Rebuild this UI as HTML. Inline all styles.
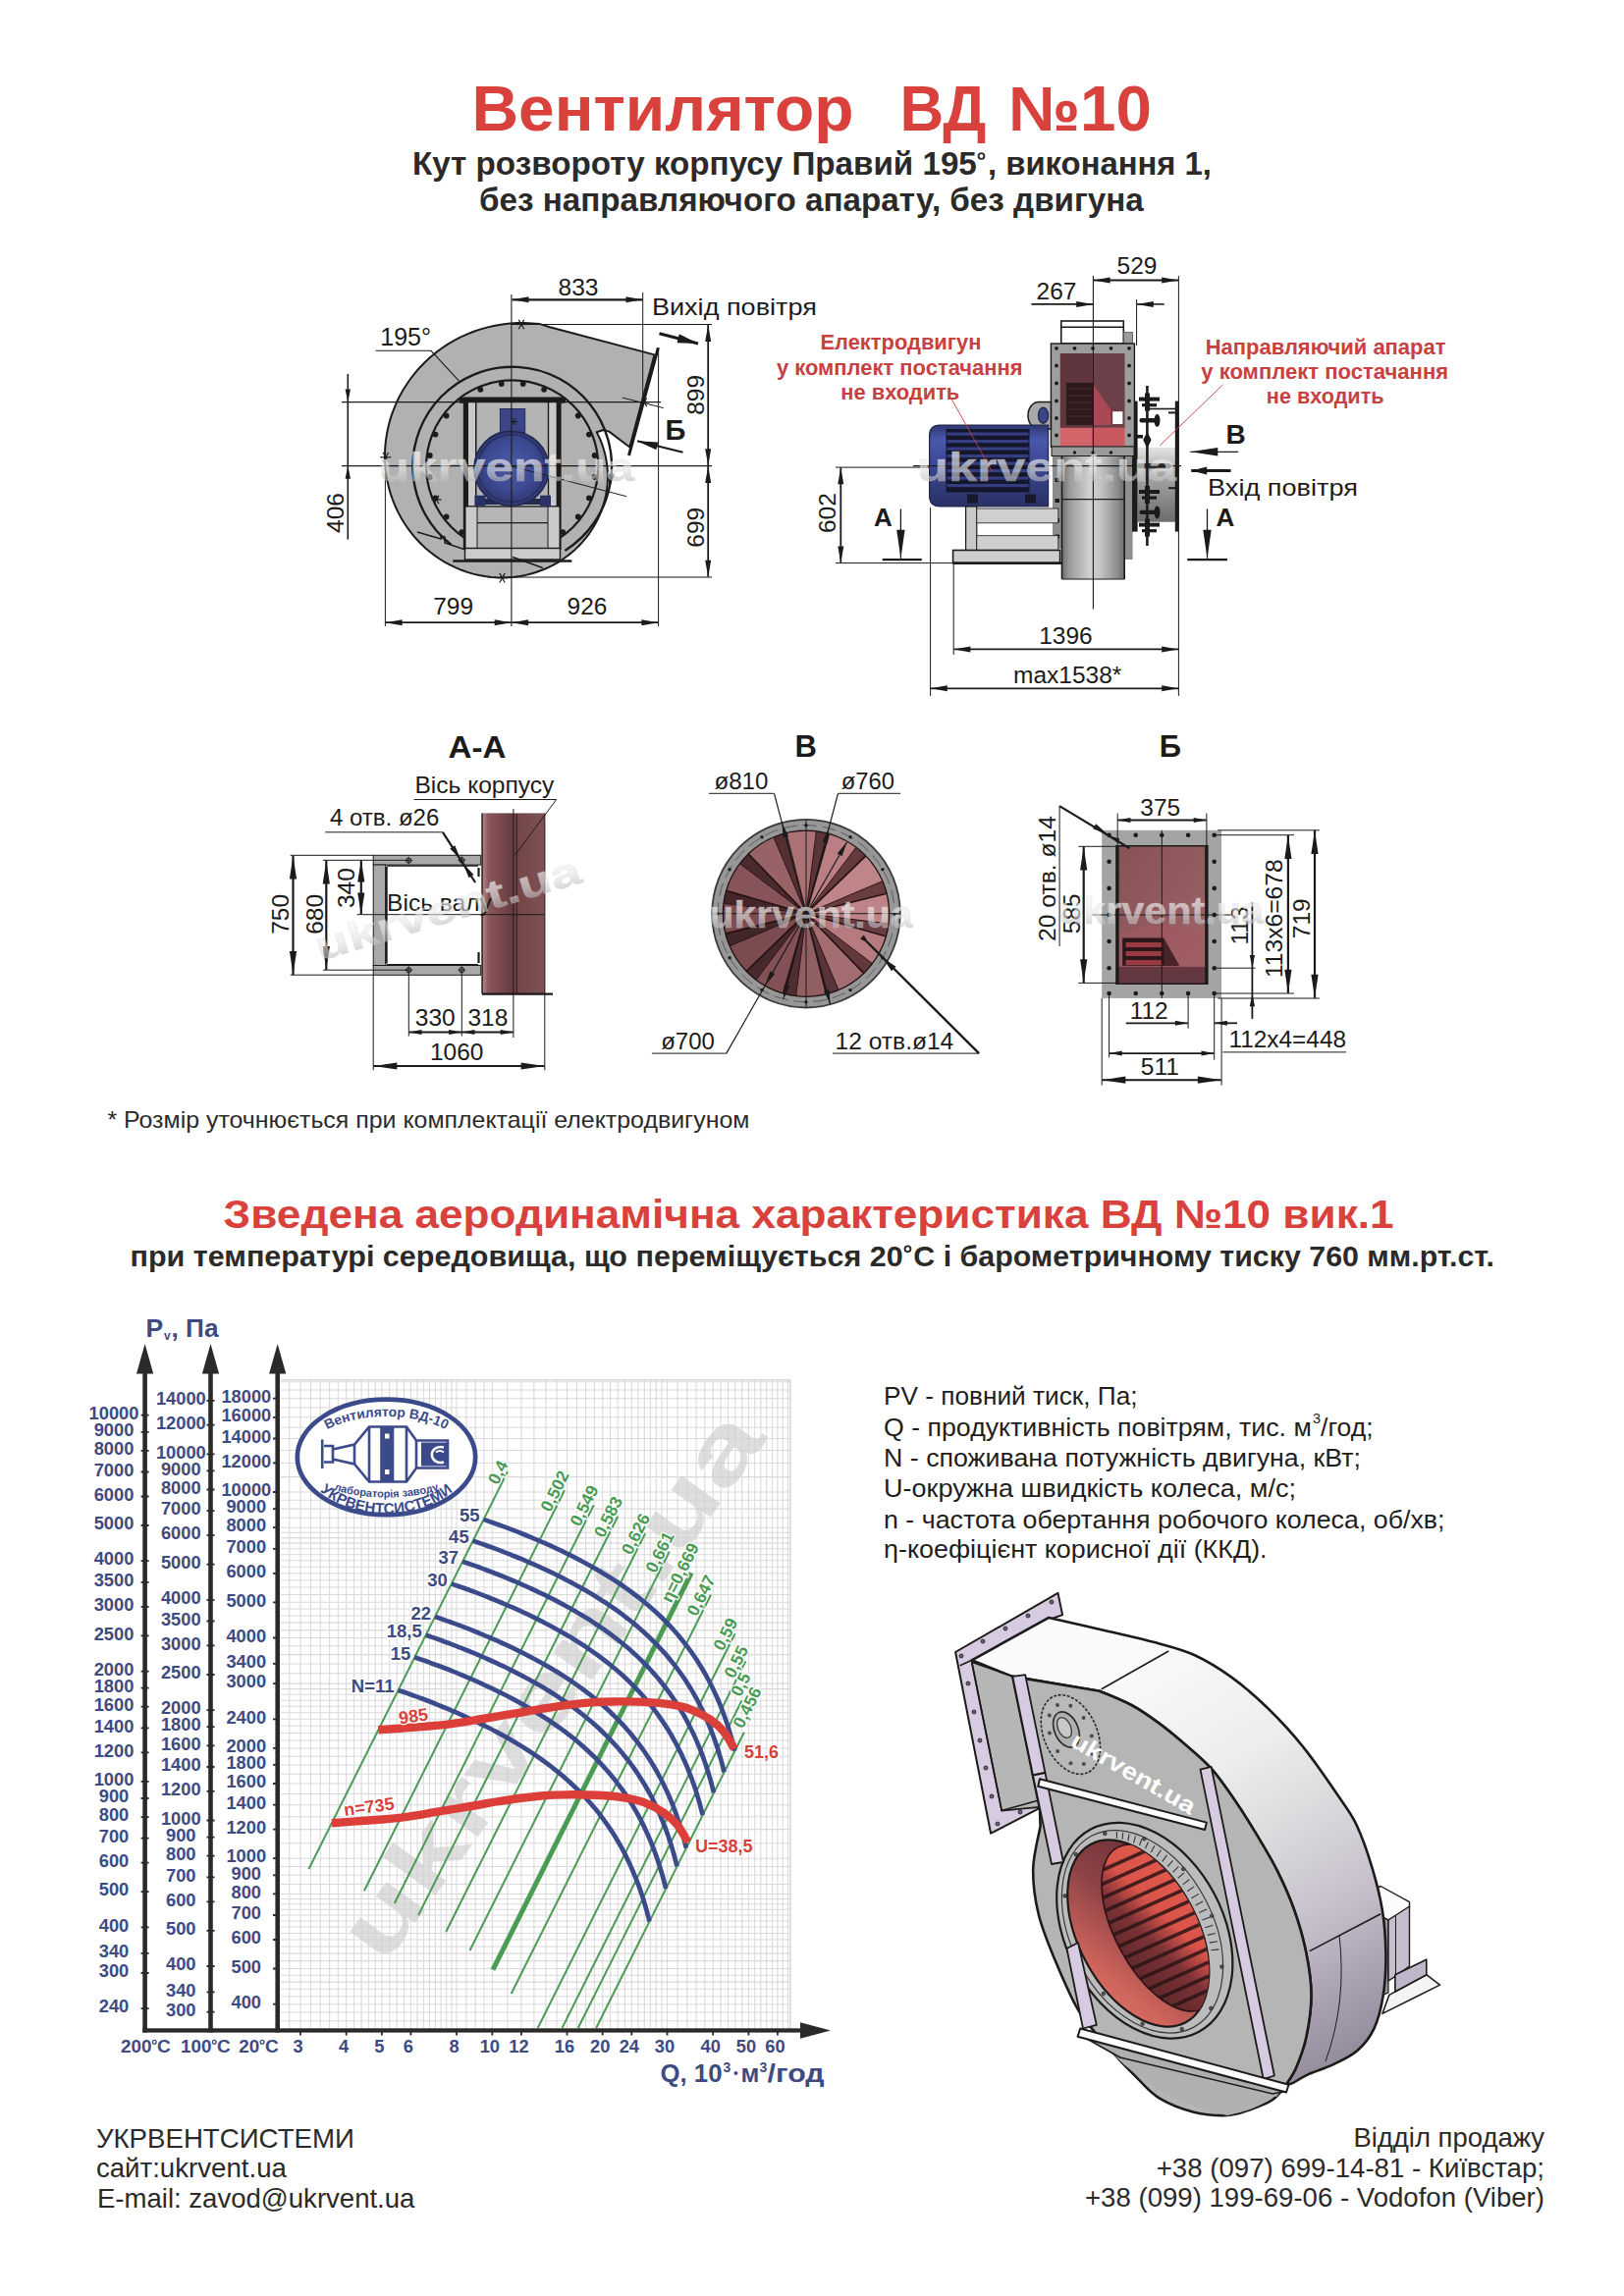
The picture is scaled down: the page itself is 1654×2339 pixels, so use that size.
<!DOCTYPE html>
<html lang="uk"><head><meta charset="utf-8"><title>Вентилятор ВД №10</title>
<style>
html,body{margin:0;padding:0;background:#fff;}
svg{display:block;}
text{font-family:"Liberation Sans",sans-serif;}
.b{font-weight:bold;}
</style></head><body>
<svg width="1654" height="2339" viewBox="0 0 1654 2339">
<rect width="1654" height="2339" fill="#fff"/>
<g id="chart">
<g id="wm" fill="#dedede">
<text x="0" y="0" font-size="92" class="b" transform="translate(391,2003) rotate(-54)" textLength="665" lengthAdjust="spacingAndGlyphs">ukrvent.ua</text>
</g>
<g id="grid" stroke="#cfcfcf" stroke-opacity="0.8" stroke-width="1.05" fill="none">
<path d="M294.8 1405.8V2066.5M306 1405.8V2066.5M316.5 1405.8V2066.5M326.3 1405.8V2066.5M335.6 1405.8V2066.5M344.3 1405.8V2066.5M352.7 1405.8V2066.5M360.6 1405.8V2066.5M368.1 1405.8V2066.5M375.3 1405.8V2066.5M382.2 1405.8V2066.5M388.9 1405.8V2066.5M396.8 1405.8V2066.5M404.3 1405.8V2066.5M411.5 1405.8V2066.5M418.4 1405.8V2066.5M425.1 1405.8V2066.5M431.4 1405.8V2066.5M437.5 1405.8V2066.5M443.4 1405.8V2066.5M449.1 1405.8V2066.5M454.6 1405.8V2066.5M459.9 1405.8V2066.5M465.1 1405.8V2066.5M474.9 1405.8V2066.5M484.2 1405.8V2066.5M493 1405.8V2066.5M501.3 1405.8V2066.5M516.8 1405.8V2066.5M530.9 1405.8V2066.5M543.9 1405.8V2066.5M555.9 1405.8V2066.5M567.1 1405.8V2066.5M577.5 1405.8V2066.5M587.4 1405.8V2066.5M596.6 1405.8V2066.5M605.4 1405.8V2066.5M613.7 1405.8V2066.5M621.6 1405.8V2066.5M629.2 1405.8V2066.5M636.4 1405.8V2066.5M643.3 1405.8V2066.5M649.9 1405.8V2066.5M656.3 1405.8V2066.5M662.4 1405.8V2066.5M668.3 1405.8V2066.5M674 1405.8V2066.5M679.5 1405.8V2066.5M690 1405.8V2066.5M699.8 1405.8V2066.5M709.1 1405.8V2066.5M717.8 1405.8V2066.5M726.2 1405.8V2066.5M734.1 1405.8V2066.5M741.6 1405.8V2066.5M748.8 1405.8V2066.5M755.7 1405.8V2066.5M762.4 1405.8V2066.5M768.7 1405.8V2066.5M774.8 1405.8V2066.5M780.7 1405.8V2066.5M786.4 1405.8V2066.5M791.9 1405.8V2066.5M797.3 1405.8V2066.5M802.4 1405.8V2066.5M285.8 2058.8H804.9M285.8 2050H804.9M285.8 2041.7H804.9M285.8 2033.8H804.9M285.8 2026.3H804.9M285.8 2019.1H804.9M285.8 2012.2H804.9M285.8 2005.5H804.9M285.8 1997.6H804.9M285.8 1990.1H804.9M285.8 1982.9H804.9M285.8 1976H804.9M285.8 1969.4H804.9M285.8 1963H804.9M285.8 1956.9H804.9M285.8 1951H804.9M285.8 1945.3H804.9M285.8 1939.8H804.9M285.8 1934.5H804.9M285.8 1929.4H804.9M285.8 1919.5H804.9M285.8 1910.3H804.9M285.8 1901.5H804.9M285.8 1893.2H804.9M285.8 1877.8H804.9M285.8 1863.6H804.9M285.8 1850.7H804.9M285.8 1838.7H804.9M285.8 1827.5H804.9M285.8 1817H804.9M285.8 1807.2H804.9M285.8 1797.9H804.9M285.8 1789.2H804.9M285.8 1780.9H804.9M285.8 1772.9H804.9M285.8 1765.4H804.9M285.8 1758.2H804.9M285.8 1751.3H804.9M285.8 1744.7H804.9M285.8 1738.3H804.9M285.8 1732.2H804.9M285.8 1726.3H804.9M285.8 1720.6H804.9M285.8 1715.1H804.9M285.8 1704.7H804.9M285.8 1694.9H804.9M285.8 1685.6H804.9M285.8 1676.8H804.9M285.8 1668.5H804.9M285.8 1660.6H804.9M285.8 1653.1H804.9M285.8 1645.9H804.9M285.8 1639H804.9M285.8 1632.3H804.9M285.8 1624.4H804.9M285.8 1616.9H804.9M285.8 1609.7H804.9M285.8 1602.8H804.9M285.8 1596.2H804.9M285.8 1589.8H804.9M285.8 1583.7H804.9M285.8 1577.8H804.9M285.8 1572.1H804.9M285.8 1566.6H804.9M285.8 1561.3H804.9M285.8 1556.2H804.9M285.8 1546.3H804.9M285.8 1537.1H804.9M285.8 1528.3H804.9M285.8 1520H804.9M285.8 1504.6H804.9M285.8 1490.4H804.9M285.8 1477.5H804.9M285.8 1465.5H804.9M285.8 1454.3H804.9M285.8 1443.8H804.9M285.8 1434H804.9M285.8 1424.7H804.9M285.8 1416H804.9M285.8 1407.7H804.9"/>
<path d="M285.8 1405.8H804.9V2066.5" stroke="#cfcfcf" stroke-width="1.6"/>
</g>
<g id="greens" stroke-linecap="butt">
<line x1="516.9" y1="1499.3" x2="314.5" y2="1904" stroke="#4b9b55" stroke-width="2.0"/>
<line x1="574.9" y1="1518.3" x2="370.9" y2="1926.2" stroke="#4b9b55" stroke-width="2.0"/>
<line x1="604.7" y1="1533.2" x2="401.8" y2="1939" stroke="#4b9b55" stroke-width="2.0"/>
<line x1="629.2" y1="1544.7" x2="426.1" y2="1951.1" stroke="#4b9b55" stroke-width="2.0"/>
<line x1="657.2" y1="1562" x2="454.2" y2="1968" stroke="#4b9b55" stroke-width="2.0"/>
<line x1="681.7" y1="1580.6" x2="478.5" y2="1987" stroke="#4b9b55" stroke-width="2.0"/>
<line x1="704.2" y1="1602.3" x2="502" y2="2006.7" stroke="#4b9b55" stroke-width="5.0"/>
<line x1="723.9" y1="1624.7" x2="520.7" y2="2031" stroke="#4b9b55" stroke-width="2.0"/>
<line x1="748.6" y1="1664.2" x2="547.7" y2="2066" stroke="#4b9b55" stroke-width="2.0"/>
<line x1="759.5" y1="1692.1" x2="572.5" y2="2066" stroke="#4b9b55" stroke-width="2.0"/>
<line x1="755.5" y1="1732.5" x2="588.8" y2="2066" stroke="#4b9b55" stroke-width="2.0"/>
<line x1="757.9" y1="1764.7" x2="607.2" y2="2066" stroke="#4b9b55" stroke-width="2.0"/>
</g>
<g id="glabels" font-size="17.5" class="b" fill="#4b9b55" stroke="#fff" stroke-width="2.4" paint-order="stroke" stroke-linejoin="round">
<text transform="translate(516.9,1499.3) rotate(-63.4)" x="-5" y="-2.5" text-anchor="middle">0,4</text>
<text transform="translate(574.9,1518.3) rotate(-63.4)" x="-5" y="-2.5" text-anchor="middle">0,502</text>
<text transform="translate(604.7,1533.2) rotate(-63.4)" x="-5" y="-2.5" text-anchor="middle">0,549</text>
<text transform="translate(629.2,1544.7) rotate(-63.4)" x="-5" y="-2.5" text-anchor="middle">0,583</text>
<text transform="translate(657.2,1562) rotate(-63.4)" x="-5" y="-2.5" text-anchor="middle">0,626</text>
<text transform="translate(681.7,1580.6) rotate(-63.4)" x="-5" y="-2.5" text-anchor="middle">0,661</text>
<text transform="translate(704.2,1602.3) rotate(-63.4)" x="-5" y="-4.5" text-anchor="middle">η=0,669</text>
<text transform="translate(723.9,1624.7) rotate(-63.4)" x="-5" y="-2.5" text-anchor="middle">0,647</text>
<text transform="translate(748.6,1664.2) rotate(-63.4)" x="-5" y="-2.5" text-anchor="middle">0,59</text>
<text transform="translate(759.5,1692.1) rotate(-63.4)" x="-5" y="-2.5" text-anchor="middle">0,55</text>
<text transform="translate(755.5,1732.5) rotate(-63.4)" x="2" y="-2.5" text-anchor="start">0,5</text>
<text transform="translate(757.9,1764.7) rotate(-63.4)" x="2" y="-2.5" text-anchor="start">0,456</text>
</g>
<g id="blues" fill="none" stroke="#3b4a8a" stroke-width="4.7" stroke-linecap="butt">
<path d="M405.6 1721.9C406.9 1722.3 410.9 1723.7 413.6 1724.6C416.2 1725.5 418.8 1726.5 421.5 1727.4C424.1 1728.4 426.7 1729.3 429.4 1730.3C432 1731.3 434.6 1732.3 437.2 1733.3C439.8 1734.3 442.4 1735.3 445 1736.4C447.6 1737.4 450.2 1738.5 452.8 1739.5C455.4 1740.6 457.9 1741.7 460.5 1742.8C463.1 1743.9 465.6 1745 468.2 1746.1C470.7 1747.3 473.3 1748.4 475.8 1749.6C478.3 1750.7 480.8 1751.9 483.4 1753.1C485.9 1754.3 488.4 1755.5 490.9 1756.8C493.4 1758 495.9 1759.2 498.4 1760.5C500.8 1761.8 503.3 1763.1 505.8 1764.4C508.2 1765.7 510.7 1767 513.1 1768.4C515.5 1769.7 518 1771.1 520.4 1772.5C522.8 1773.9 525.2 1775.3 527.6 1776.8C530 1778.2 532.4 1779.7 534.7 1781.2C537.1 1782.7 539.5 1784.2 541.8 1785.7C544.1 1787.3 546.5 1788.9 548.8 1790.5C551.1 1792.1 553.4 1793.7 555.6 1795.4C557.9 1797.1 560.2 1798.8 562.4 1800.5C564.7 1802.3 566.9 1804 569.1 1805.9C571.3 1807.7 573.5 1809.5 575.7 1811.4C577.8 1813.3 580 1815.2 582.1 1817.2C584.2 1819.2 586.4 1821.2 588.4 1823.2C590.5 1825.3 592.6 1827.4 594.6 1829.6C596.7 1831.7 598.7 1833.9 600.7 1836.2C602.7 1838.4 604.6 1840.7 606.6 1843.1C608.5 1845.4 610.4 1847.8 612.3 1850.3C614.2 1852.8 616 1855.3 617.8 1857.9C619.7 1860.5 621.4 1863.1 623.2 1865.8C625 1868.5 626.7 1871.3 628.4 1874.2C630.1 1877 631.7 1879.9 633.4 1882.9C635 1885.9 636.6 1888.9 638.1 1892.1C639.7 1895.2 641.2 1898.4 642.6 1901.7C644.1 1905 645.5 1908.3 646.9 1911.8C648.3 1915.2 649.7 1918.8 651 1922.4C652.3 1926 653.5 1929.7 654.8 1933.5C656 1937.3 657.1 1941.2 658.3 1945.2C659.4 1949.2 660.9 1955.4 661.5 1957.5"/>
<path d="M422.3 1688.3C423.7 1688.8 427.7 1690.1 430.3 1691.1C433 1692 435.6 1692.9 438.2 1693.9C440.9 1694.8 443.5 1695.8 446.1 1696.8C448.8 1697.8 451.4 1698.8 454 1699.8C456.6 1700.8 459.2 1701.8 461.8 1702.9C464.4 1703.9 467 1705 469.5 1706C472.1 1707.1 474.7 1708.2 477.3 1709.3C479.8 1710.4 482.4 1711.5 484.9 1712.6C487.5 1713.8 490 1714.9 492.5 1716.1C495.1 1717.2 497.6 1718.4 500.1 1719.6C502.6 1720.8 505.1 1722 507.6 1723.3C510.1 1724.5 512.6 1725.7 515.1 1727C517.6 1728.3 520.1 1729.6 522.5 1730.9C525 1732.2 527.4 1733.5 529.9 1734.9C532.3 1736.2 534.7 1737.6 537.1 1739C539.6 1740.4 542 1741.8 544.4 1743.2C546.7 1744.7 549.1 1746.2 551.5 1747.7C553.9 1749.2 556.2 1750.7 558.6 1752.2C560.9 1753.8 563.2 1755.4 565.5 1757C567.8 1758.6 570.1 1760.2 572.4 1761.9C574.7 1763.6 576.9 1765.3 579.2 1767C581.4 1768.8 583.7 1770.5 585.9 1772.3C588.1 1774.2 590.3 1776 592.4 1777.9C594.6 1779.8 596.7 1781.7 598.9 1783.7C601 1785.7 603.1 1787.7 605.2 1789.7C607.3 1791.8 609.3 1793.9 611.4 1796.1C613.4 1798.2 615.4 1800.4 617.4 1802.7C619.4 1804.9 621.4 1807.2 623.3 1809.6C625.2 1811.9 627.2 1814.3 629 1816.8C630.9 1819.3 632.8 1821.8 634.6 1824.4C636.4 1827 638.2 1829.6 640 1832.3C641.7 1835 643.4 1837.8 645.1 1840.6C646.8 1843.5 648.5 1846.4 650.1 1849.4C651.7 1852.4 653.3 1855.4 654.9 1858.6C656.4 1861.7 657.9 1864.9 659.4 1868.2C660.9 1871.5 662.3 1874.8 663.7 1878.3C665.1 1881.7 666.4 1885.3 667.7 1888.9C669 1892.5 670.3 1896.2 671.5 1900C672.7 1903.8 673.9 1907.7 675 1911.7C676.1 1915.7 677.7 1921.9 678.2 1924"/>
<path d="M433.7 1665.7C435 1666.1 439 1667.5 441.6 1668.4C444.3 1669.3 446.9 1670.3 449.6 1671.2C452.2 1672.2 454.8 1673.2 457.5 1674.1C460.1 1675.1 462.7 1676.1 465.3 1677.1C467.9 1678.1 470.5 1679.2 473.1 1680.2C475.7 1681.2 478.3 1682.3 480.9 1683.4C483.4 1684.4 486 1685.5 488.6 1686.6C491.1 1687.7 493.7 1688.8 496.3 1690C498.8 1691.1 501.3 1692.2 503.9 1693.4C506.4 1694.6 508.9 1695.8 511.5 1696.9C514 1698.1 516.5 1699.4 519 1700.6C521.5 1701.8 524 1703.1 526.4 1704.3C528.9 1705.6 531.4 1706.9 533.8 1708.2C536.3 1709.5 538.8 1710.8 541.2 1712.2C543.6 1713.6 546.1 1714.9 548.5 1716.3C550.9 1717.7 553.3 1719.1 555.7 1720.6C558.1 1722 560.5 1723.5 562.8 1725C565.2 1726.5 567.5 1728 569.9 1729.6C572.2 1731.1 574.5 1732.7 576.9 1734.3C579.2 1735.9 581.5 1737.6 583.7 1739.2C586 1740.9 588.3 1742.6 590.5 1744.4C592.8 1746.1 595 1747.9 597.2 1749.7C599.4 1751.5 601.6 1753.3 603.8 1755.2C605.9 1757.1 608.1 1759.1 610.2 1761C612.3 1763 614.4 1765 616.5 1767.1C618.6 1769.1 620.7 1771.2 622.7 1773.4C624.7 1775.5 626.8 1777.7 628.8 1780C630.7 1782.2 632.7 1784.5 634.6 1786.9C636.6 1789.3 638.5 1791.7 640.4 1794.1C642.2 1796.6 644.1 1799.1 645.9 1801.7C647.7 1804.3 649.5 1806.9 651.3 1809.7C653 1812.4 654.8 1815.1 656.5 1818C658.2 1820.8 659.8 1823.7 661.4 1826.7C663.1 1829.7 664.7 1832.8 666.2 1835.9C667.7 1839 669.3 1842.2 670.7 1845.5C672.2 1848.8 673.6 1852.2 675 1855.6C676.4 1859.1 677.8 1862.6 679.1 1866.2C680.4 1869.8 681.6 1873.5 682.8 1877.3C684.1 1881.1 685.2 1885 686.3 1889C687.5 1893 689 1899.3 689.5 1901.3"/>
<path d="M443 1647C444.4 1647.4 448.3 1648.8 451 1649.7C453.6 1650.6 456.3 1651.6 458.9 1652.5C461.6 1653.5 464.2 1654.4 466.8 1655.4C469.4 1656.4 472.1 1657.4 474.7 1658.4C477.3 1659.4 479.9 1660.4 482.5 1661.5C485.1 1662.5 487.7 1663.6 490.2 1664.6C492.8 1665.7 495.4 1666.8 497.9 1667.9C500.5 1669 503.1 1670.1 505.6 1671.2C508.2 1672.4 510.7 1673.5 513.2 1674.7C515.8 1675.9 518.3 1677 520.8 1678.2C523.3 1679.4 525.8 1680.6 528.3 1681.9C530.8 1683.1 533.3 1684.3 535.8 1685.6C538.3 1686.9 540.7 1688.2 543.2 1689.5C545.7 1690.8 548.1 1692.1 550.6 1693.5C553 1694.8 555.4 1696.2 557.8 1697.6C560.3 1699 562.7 1700.4 565 1701.9C567.4 1703.3 569.8 1704.8 572.2 1706.3C574.6 1707.8 576.9 1709.3 579.2 1710.8C581.6 1712.4 583.9 1714 586.2 1715.6C588.5 1717.2 590.8 1718.8 593.1 1720.5C595.4 1722.2 597.6 1723.9 599.9 1725.6C602.1 1727.4 604.3 1729.1 606.6 1731C608.8 1732.8 611 1734.6 613.1 1736.5C615.3 1738.4 617.4 1740.3 619.6 1742.3C621.7 1744.3 623.8 1746.3 625.9 1748.4C628 1750.4 630 1752.5 632.1 1754.7C634.1 1756.8 636.1 1759 638.1 1761.3C640.1 1763.5 642.1 1765.8 644 1768.2C645.9 1770.5 647.8 1772.9 649.7 1775.4C651.6 1777.9 653.5 1780.4 655.3 1783C657.1 1785.6 658.9 1788.2 660.6 1790.9C662.4 1793.6 664.1 1796.4 665.8 1799.3C667.5 1802.1 669.2 1805 670.8 1808C672.4 1811 674 1814 675.6 1817.2C677.1 1820.3 678.6 1823.5 680.1 1826.8C681.6 1830.1 683 1833.4 684.4 1836.9C685.8 1840.3 687.1 1843.9 688.4 1847.5C689.7 1851.1 691 1854.8 692.2 1858.6C693.4 1862.4 694.6 1866.3 695.7 1870.3C696.8 1874.3 698.4 1880.5 698.9 1882.6"/>
<path d="M459.8 1613.4C461.1 1613.9 465.1 1615.3 467.8 1616.2C470.4 1617.1 473.1 1618 475.7 1619C478.3 1620 481 1620.9 483.6 1621.9C486.2 1622.9 488.8 1623.9 491.4 1624.9C494 1625.9 496.6 1626.9 499.2 1628C501.8 1629 504.4 1630.1 507 1631.1C509.6 1632.2 512.1 1633.3 514.7 1634.4C517.3 1635.5 519.8 1636.6 522.4 1637.7C524.9 1638.9 527.5 1640 530 1641.2C532.5 1642.3 535.1 1643.5 537.6 1644.7C540.1 1645.9 542.6 1647.1 545.1 1648.4C547.6 1649.6 550.1 1650.8 552.6 1652.1C555 1653.4 557.5 1654.7 560 1656C562.4 1657.3 564.9 1658.6 567.3 1660C569.8 1661.3 572.2 1662.7 574.6 1664.1C577 1665.5 579.4 1666.9 581.8 1668.3C584.2 1669.8 586.6 1671.3 588.9 1672.8C591.3 1674.3 593.7 1675.8 596 1677.3C598.3 1678.9 600.7 1680.5 603 1682.1C605.3 1683.7 607.6 1685.3 609.9 1687C612.1 1688.7 614.4 1690.4 616.6 1692.1C618.9 1693.9 621.1 1695.6 623.3 1697.5C625.5 1699.3 627.7 1701.1 629.9 1703C632 1704.9 634.2 1706.8 636.3 1708.8C638.5 1710.8 640.6 1712.8 642.6 1714.8C644.7 1716.9 646.8 1719 648.8 1721.2C650.9 1723.3 652.9 1725.5 654.9 1727.8C656.9 1730 658.8 1732.3 660.8 1734.7C662.7 1737 664.6 1739.4 666.5 1741.9C668.4 1744.4 670.2 1746.9 672 1749.5C673.9 1752.1 675.6 1754.7 677.4 1757.4C679.2 1760.1 680.9 1762.9 682.6 1765.8C684.3 1768.6 685.9 1771.5 687.6 1774.5C689.2 1777.5 690.8 1780.5 692.3 1783.7C693.9 1786.8 695.4 1790 696.8 1793.3C698.3 1796.6 699.8 1799.9 701.1 1803.4C702.5 1806.8 703.9 1810.4 705.2 1814C706.5 1817.6 707.7 1821.3 709 1825.1C710.2 1828.9 711.3 1832.8 712.5 1836.8C713.6 1840.8 715.1 1847 715.7 1849.1"/>
<path d="M471.1 1590.8C472.4 1591.2 476.4 1592.6 479.1 1593.5C481.7 1594.4 484.4 1595.4 487 1596.3C489.7 1597.3 492.3 1598.3 494.9 1599.2C497.5 1600.2 500.1 1601.2 502.8 1602.2C505.4 1603.2 508 1604.3 510.6 1605.3C513.2 1606.4 515.7 1607.4 518.3 1608.5C520.9 1609.5 523.5 1610.6 526 1611.7C528.6 1612.8 531.2 1613.9 533.7 1615.1C536.3 1616.2 538.8 1617.4 541.3 1618.5C543.9 1619.7 546.4 1620.9 548.9 1622.1C551.4 1623.2 553.9 1624.5 556.4 1625.7C558.9 1626.9 561.4 1628.2 563.9 1629.4C566.4 1630.7 568.8 1632 571.3 1633.3C573.8 1634.6 576.2 1636 578.6 1637.3C581.1 1638.7 583.5 1640 585.9 1641.4C588.3 1642.8 590.7 1644.2 593.1 1645.7C595.5 1647.1 597.9 1648.6 600.3 1650.1C602.6 1651.6 605 1653.1 607.3 1654.7C609.7 1656.2 612 1657.8 614.3 1659.4C616.6 1661 618.9 1662.7 621.2 1664.3C623.5 1666 625.7 1667.7 628 1669.5C630.2 1671.2 632.4 1673 634.6 1674.8C636.8 1676.6 639 1678.5 641.2 1680.3C643.4 1682.2 645.5 1684.2 647.7 1686.1C649.8 1688.1 651.9 1690.1 654 1692.2C656.1 1694.2 658.1 1696.3 660.2 1698.5C662.2 1700.6 664.2 1702.8 666.2 1705.1C668.2 1707.4 670.2 1709.6 672.1 1712C674 1714.4 675.9 1716.8 677.8 1719.2C679.7 1721.7 681.5 1724.2 683.4 1726.8C685.2 1729.4 687 1732.1 688.7 1734.8C690.5 1737.5 692.2 1740.2 693.9 1743.1C695.6 1745.9 697.3 1748.8 698.9 1751.8C700.5 1754.8 702.1 1757.9 703.6 1761C705.2 1764.1 706.7 1767.3 708.2 1770.6C709.7 1773.9 711.1 1777.3 712.5 1780.7C713.9 1784.2 715.2 1787.7 716.5 1791.3C717.8 1794.9 719.1 1798.6 720.3 1802.5C721.5 1806.3 722.7 1810.1 723.8 1814.1C724.9 1818.1 726.5 1824.4 727 1826.4"/>
<path d="M481.7 1569.6C483 1570.1 487 1571.4 489.7 1572.4C492.3 1573.3 495 1574.2 497.6 1575.2C500.2 1576.1 502.9 1577.1 505.5 1578.1C508.1 1579.1 510.7 1580.1 513.3 1581.1C515.9 1582.1 518.5 1583.1 521.1 1584.2C523.7 1585.2 526.3 1586.3 528.9 1587.3C531.5 1588.4 534 1589.5 536.6 1590.6C539.2 1591.7 541.7 1592.8 544.3 1593.9C546.8 1595.1 549.4 1596.2 551.9 1597.4C554.4 1598.5 557 1599.7 559.5 1600.9C562 1602.1 564.5 1603.3 567 1604.5C569.5 1605.8 572 1607 574.5 1608.3C576.9 1609.6 579.4 1610.9 581.9 1612.2C584.3 1613.5 586.8 1614.8 589.2 1616.2C591.7 1617.5 594.1 1618.9 596.5 1620.3C598.9 1621.7 601.3 1623.1 603.7 1624.5C606.1 1626 608.5 1627.5 610.8 1628.9C613.2 1630.4 615.6 1632 617.9 1633.5C620.2 1635.1 622.6 1636.7 624.9 1638.3C627.2 1639.9 629.5 1641.5 631.8 1643.2C634 1644.9 636.3 1646.6 638.5 1648.3C640.8 1650.1 643 1651.8 645.2 1653.6C647.4 1655.5 649.6 1657.3 651.8 1659.2C654 1661.1 656.1 1663 658.2 1665C660.4 1667 662.5 1669 664.5 1671C666.6 1673.1 668.7 1675.2 670.7 1677.3C672.8 1679.5 674.8 1681.7 676.8 1683.9C678.8 1686.2 680.7 1688.5 682.7 1690.9C684.6 1693.2 686.5 1695.6 688.4 1698.1C690.3 1700.6 692.1 1703.1 693.9 1705.7C695.8 1708.3 697.6 1710.9 699.3 1713.6C701.1 1716.3 702.8 1719.1 704.5 1721.9C706.2 1724.8 707.8 1727.7 709.5 1730.7C711.1 1733.7 712.7 1736.7 714.2 1739.8C715.8 1743 717.3 1746.2 718.8 1749.5C720.2 1752.8 721.7 1756.1 723 1759.6C724.4 1763 725.8 1766.5 727.1 1770.2C728.4 1773.8 729.7 1777.5 730.9 1781.3C732.1 1785.1 733.2 1789 734.4 1793C735.5 1797 737 1803.2 737.6 1805.3"/>
<path d="M492.5 1547.9C493.9 1548.4 497.9 1549.8 500.5 1550.7C503.2 1551.6 505.8 1552.5 508.4 1553.5C511.1 1554.5 513.7 1555.4 516.3 1556.4C518.9 1557.4 521.6 1558.4 524.2 1559.4C526.8 1560.4 529.4 1561.4 532 1562.5C534.6 1563.5 537.2 1564.6 539.7 1565.6C542.3 1566.7 544.9 1567.8 547.4 1568.9C550 1570 552.6 1571.1 555.1 1572.2C557.7 1573.4 560.2 1574.5 562.7 1575.7C565.3 1576.8 567.8 1578 570.3 1579.2C572.8 1580.4 575.3 1581.6 577.8 1582.9C580.3 1584.1 582.8 1585.3 585.3 1586.6C587.8 1587.9 590.3 1589.2 592.7 1590.5C595.2 1591.8 597.6 1593.1 600.1 1594.5C602.5 1595.8 604.9 1597.2 607.3 1598.6C609.8 1600 612.2 1601.4 614.6 1602.9C616.9 1604.3 619.3 1605.8 621.7 1607.3C624.1 1608.8 626.4 1610.3 628.7 1611.8C631.1 1613.4 633.4 1615 635.7 1616.6C638 1618.2 640.3 1619.8 642.6 1621.5C644.9 1623.2 647.1 1624.9 649.4 1626.6C651.6 1628.4 653.8 1630.1 656.1 1632C658.3 1633.8 660.5 1635.6 662.6 1637.5C664.8 1639.4 666.9 1641.3 669.1 1643.3C671.2 1645.3 673.3 1647.3 675.4 1649.3C677.5 1651.4 679.5 1653.5 681.6 1655.7C683.6 1657.8 685.6 1660 687.6 1662.3C689.6 1664.5 691.6 1666.8 693.5 1669.2C695.4 1671.5 697.3 1673.9 699.2 1676.4C701.1 1678.9 703 1681.4 704.8 1684C706.6 1686.6 708.4 1689.2 710.2 1691.9C711.9 1694.6 713.6 1697.4 715.3 1700.3C717 1703.1 718.7 1706 720.3 1709C721.9 1712 723.5 1715 725.1 1718.2C726.6 1721.3 728.1 1724.5 729.6 1727.8C731.1 1731.1 732.5 1734.4 733.9 1737.9C735.3 1741.3 736.6 1744.9 737.9 1748.5C739.2 1752.1 740.5 1755.8 741.7 1759.6C742.9 1763.4 744.1 1767.3 745.2 1771.3C746.3 1775.3 747.9 1781.5 748.4 1783.6"/>
</g>
<g id="nlabels" font-size="18.5" class="b" fill="#3d4b82" stroke="#fff" stroke-width="3" paint-order="stroke" text-anchor="end">
<text x="401.6" y="1724.4">N=11</text>
<text x="418.3" y="1690.8">15</text>
<text x="429.7" y="1668.2">18,5</text>
<text x="439" y="1649.5">22</text>
<text x="455.8" y="1615.9">30</text>
<text x="467.1" y="1593.3">37</text>
<text x="477.7" y="1572.1">45</text>
<text x="488.5" y="1550.4">55</text>
</g>
<g id="reds" fill="none" stroke="#dc3e39" stroke-width="8.4" stroke-linecap="butt">
<path d="M337.9 1857.2C343.6 1856.8 360.5 1855.6 372 1854.7C383.5 1853.8 394.5 1853.3 407 1851.8C419.5 1850.2 434.9 1847.4 447 1845.4C459.1 1843.4 468.1 1841.9 479.5 1840C490.9 1838.1 502.9 1835.8 515.4 1834C527.9 1832.2 543.2 1830.2 554.2 1829.3C565.2 1828.3 572.3 1828.4 581.3 1828.3C590.3 1828.2 599.4 1828.3 608.4 1828.8C617.4 1829.3 627.6 1830.1 635.5 1831.3C643.4 1832.5 649 1833.6 655.8 1836.2C662.6 1838.8 670.5 1842.9 676.1 1846.7C681.8 1850.5 685.6 1853.9 689.7 1858.9C693.8 1863.9 698.8 1873.6 700.6 1876.6"/>
<path d="M385.3 1762.3C391 1761.9 407.9 1760.7 419.4 1759.8C430.9 1758.9 441.9 1758.4 454.4 1756.9C466.9 1755.3 482.3 1752.5 494.4 1750.5C506.5 1748.5 515.5 1747 526.9 1745.1C538.3 1743.2 550.3 1740.9 562.8 1739.1C575.2 1737.3 590.6 1735.3 601.6 1734.4C612.6 1733.4 619.7 1733.5 628.7 1733.4C637.7 1733.3 646.8 1733.4 655.8 1733.9C664.8 1734.4 675 1735.2 682.9 1736.4C690.8 1737.6 696.4 1738.7 703.2 1741.3C710 1743.9 717.9 1748 723.5 1751.8C729.1 1755.6 733 1759 737.1 1764C741.2 1769 746.2 1778.7 748 1781.7"/>
</g>
<g font-size="18" class="b" fill="#d8413c" stroke="#fff" stroke-width="2.5" paint-order="stroke">
<text transform="translate(351,1850) rotate(-7.5)">n=735</text>
<text transform="translate(407,1756.5) rotate(-8)">985</text>
<text x="758" y="1790.8">51,6</text>
<text x="708" y="1887">U=38,5</text>
</g>
<g id="stamp">
<ellipse cx="393.5" cy="1484.4" rx="90.7" ry="58.7" fill="#fff" stroke="#3b4a8a" stroke-width="4.7"/>
<defs><path id="arcTop" d="M311.5,1484.4 A82,41.4 0 0 1 475.5,1484.4"/><path id="arcBot1" d="M302,1484.4 A91.5,41.1 0 0 0 485,1484.4"/><path id="arcBot2" d="M309,1484.4 A84.5,57.5 0 0 0 478,1484.4"/></defs>
<text font-size="13.8" class="b" fill="#3b4a8a"><textPath href="#arcTop" startOffset="50%" text-anchor="middle">Вентилятор ВД-10</textPath></text>
<text font-size="11" class="b" fill="#3b4a8a"><textPath href="#arcBot1" startOffset="50%" text-anchor="middle">лабораторія заводу</textPath></text>
<text font-size="15.2" class="b" fill="#3b4a8a"><textPath href="#arcBot2" startOffset="50%" text-anchor="middle">УКРВЕНТСИСТЕМИ</textPath></text>
<g fill="none" stroke="#3b4a8a" stroke-width="2.6" stroke-linejoin="miter">
<path d="M328.2,1466.5V1496 M330,1473H339V1489.5H330 M339,1476.5 L361,1471.5 L376,1453.5 H414 L424,1467.5 H456 V1495.5 H424 L414,1509.5 H376 L361,1491.5 L339,1486.5"/>
<path d="M361,1471.5V1491.5 M376,1453.5V1509.5 M414,1453.5V1509.5 M424,1467.5V1495.5 M388.5,1453.5V1509.5 M400,1453.5V1509.5"/>
</g>
<rect x="388.5" y="1453.5" width="11.5" height="56" fill="#3b4a8a"/>
<rect x="392" y="1460.5" width="4.5" height="5" fill="#fff"/><rect x="392" y="1497" width="4.5" height="5" fill="#fff"/>
<rect x="429" y="1469.5" width="27" height="24" fill="#3b4a8a"/>
<path d="M452,1474.5 A9,8 0 1 0 452,1489.5" fill="none" stroke="#fff" stroke-width="2.6"/><path d="M444,1479.5 q4,-3 8,0" fill="none" stroke="#fff" stroke-width="2"/>
</g>
<g id="axes">
<rect x="145.3" y="1395" width="4.6" height="675.5" fill="#2b2a29"/>
<path d="M147.6 1369 L156.2 1399.5 L139 1399.5Z" fill="#2b2a29"/>
<rect x="212.2" y="1395" width="4.6" height="675.5" fill="#2b2a29"/>
<path d="M214.5 1369 L223.1 1399.5 L205.9 1399.5Z" fill="#2b2a29"/>
<rect x="280.4" y="1395" width="4.6" height="675.5" fill="#2b2a29"/>
<path d="M282.7 1369 L291.3 1399.5 L274.1 1399.5Z" fill="#2b2a29"/>
<rect x="145.3" y="2066.3" width="672.7" height="4.3" fill="#2b2a29"/>
<path d="M846 2068.5 L815 2060.3 L815 2076.7Z" fill="#2b2a29"/>
<path d="M143.6 1441.7H151.6M143.6 1458.8H151.6M143.6 1477.9H151.6M143.6 1499.5H151.6M143.6 1524.5H151.6M143.6 1554H151.6M143.6 1590.2H151.6M143.6 1611.9H151.6M143.6 1636.8H151.6M143.6 1666.4H151.6M143.6 1702.6H151.6M143.6 1719.6H151.6M143.6 1738.7H151.6M143.6 1760.4H151.6M143.6 1785.3H151.6M143.6 1814.9H151.6M143.6 1832H151.6M143.6 1851.1H151.6M143.6 1872.7H151.6M143.6 1897.7H151.6M143.6 1927.2H151.6M143.6 1963.4H151.6M143.6 1989.8H151.6M143.6 2010H151.6M143.6 2046.2H151.6M210.5 1426.8H218.5M210.5 1451.7H218.5M210.5 1481.3H218.5M210.5 1498.4H218.5M210.5 1517.5H218.5M210.5 1539.1H218.5M210.5 1564.1H218.5M210.5 1593.6H218.5M210.5 1629.8H218.5M210.5 1651.5H218.5M210.5 1676.4H218.5M210.5 1706H218.5M210.5 1742.2H218.5M210.5 1759.2H218.5M210.5 1778.3H218.5M210.5 1800H218.5M210.5 1824.9H218.5M210.5 1854.5H218.5M210.5 1871.6H218.5M210.5 1890.7H218.5M210.5 1912.3H218.5M210.5 1937.3H218.5M210.5 1966.8H218.5M210.5 2003H218.5M210.5 2029.4H218.5M210.5 2049.6H218.5M278 1424.7H284M278 1443.8H284M278 1465.5H284M278 1490.4H284M278 1520H284M278 1537.1H284M278 1556.2H284M278 1577.8H284M278 1602.8H284M278 1632.3H284M278 1668.5H284M278 1694.9H284M278 1715.1H284M278 1751.3H284M278 1780.9H284M278 1797.9H284M278 1817H284M278 1838.7H284M278 1863.6H284M278 1893.2H284M278 1910.3H284M278 1929.4H284M278 1951H284M278 1976H284M278 2005.5H284M278 2041.7H284M306 2068V2073.5M352.7 2068V2073.5M388.9 2068V2073.5M418.4 2068V2073.5M465.1 2068V2073.5M501.3 2068V2073.5M530.9 2068V2073.5M577.5 2068V2073.5M613.7 2068V2073.5M643.3 2068V2073.5M679.5 2068V2073.5M726.2 2068V2073.5M762.4 2068V2073.5M791.9 2068V2073.5" stroke="#2b2a29" stroke-width="1.8" fill="none"/>
<g font-size="18.3" class="b" fill="#3d4b82" text-anchor="middle">
<text x="116" y="1445.9">10000</text>
<text x="116" y="1463">9000</text>
<text x="116" y="1482.1">8000</text>
<text x="116" y="1503.7">7000</text>
<text x="116" y="1528.7">6000</text>
<text x="116" y="1558.2">5000</text>
<text x="116" y="1594.4">4000</text>
<text x="116" y="1616.1">3500</text>
<text x="116" y="1641">3000</text>
<text x="116" y="1670.6">2500</text>
<text x="116" y="1706.8">2000</text>
<text x="116" y="1723.8">1800</text>
<text x="116" y="1742.9">1600</text>
<text x="116" y="1764.6">1400</text>
<text x="116" y="1789.5">1200</text>
<text x="116" y="1819.1">1000</text>
<text x="116" y="1836.2">900</text>
<text x="116" y="1855.3">800</text>
<text x="116" y="1876.9">700</text>
<text x="116" y="1901.9">600</text>
<text x="116" y="1931.4">500</text>
<text x="116" y="1967.6">400</text>
<text x="116" y="1994">340</text>
<text x="116" y="2014.2">300</text>
<text x="116" y="2050.4">240</text>
<text x="184.3" y="1431">14000</text>
<text x="184.3" y="1455.9">12000</text>
<text x="184.3" y="1485.5">10000</text>
<text x="184.3" y="1502.6">9000</text>
<text x="184.3" y="1521.7">8000</text>
<text x="184.3" y="1543.3">7000</text>
<text x="184.3" y="1568.3">6000</text>
<text x="184.3" y="1597.8">5000</text>
<text x="184.3" y="1634">4000</text>
<text x="184.3" y="1655.7">3500</text>
<text x="184.3" y="1680.6">3000</text>
<text x="184.3" y="1710.2">2500</text>
<text x="184.3" y="1746.4">2000</text>
<text x="184.3" y="1763.4">1800</text>
<text x="184.3" y="1782.5">1600</text>
<text x="184.3" y="1804.2">1400</text>
<text x="184.3" y="1829.1">1200</text>
<text x="184.3" y="1858.7">1000</text>
<text x="184.3" y="1875.8">900</text>
<text x="184.3" y="1894.9">800</text>
<text x="184.3" y="1916.5">700</text>
<text x="184.3" y="1941.5">600</text>
<text x="184.3" y="1971">500</text>
<text x="184.3" y="2007.2">400</text>
<text x="184.3" y="2033.6">340</text>
<text x="184.3" y="2053.8">300</text>
<text x="250.8" y="1428.9">18000</text>
<text x="250.8" y="1448">16000</text>
<text x="250.8" y="1469.7">14000</text>
<text x="250.8" y="1494.6">12000</text>
<text x="250.8" y="1524.2">10000</text>
<text x="250.8" y="1541.3">9000</text>
<text x="250.8" y="1560.4">8000</text>
<text x="250.8" y="1582">7000</text>
<text x="250.8" y="1607">6000</text>
<text x="250.8" y="1636.5">5000</text>
<text x="250.8" y="1672.7">4000</text>
<text x="250.8" y="1699.1">3400</text>
<text x="250.8" y="1719.3">3000</text>
<text x="250.8" y="1755.5">2400</text>
<text x="250.8" y="1785.1">2000</text>
<text x="250.8" y="1802.1">1800</text>
<text x="250.8" y="1821.2">1600</text>
<text x="250.8" y="1842.9">1400</text>
<text x="250.8" y="1867.8">1200</text>
<text x="250.8" y="1897.4">1000</text>
<text x="250.8" y="1914.5">900</text>
<text x="250.8" y="1933.6">800</text>
<text x="250.8" y="1955.2">700</text>
<text x="250.8" y="1980.2">600</text>
<text x="250.8" y="2009.7">500</text>
<text x="250.8" y="2045.9">400</text>
<text x="303.5" y="2091.3">3</text>
<text x="350.2" y="2091.3">4</text>
<text x="386.4" y="2091.3">5</text>
<text x="415.9" y="2091.3">6</text>
<text x="462.6" y="2091.3">8</text>
<text x="498.8" y="2091.3">10</text>
<text x="528.4" y="2091.3">12</text>
<text x="575" y="2091.3">16</text>
<text x="611.2" y="2091.3">20</text>
<text x="640.8" y="2091.3">24</text>
<text x="677" y="2091.3">30</text>
<text x="723.7" y="2091.3">40</text>
<text x="759.9" y="2091.3">50</text>
<text x="789.4" y="2091.3">60</text>
</g>
<g font-size="19" class="b" fill="#3d4b82">
<text x="123" y="2091.3" textLength="31.5" lengthAdjust="spacingAndGlyphs">200</text>
<circle cx="157.3" cy="2080.3" r="1.9" fill="none" stroke="#3d4b82" stroke-width="1.3"/>
<text x="160.1" y="2091.3">C</text>
<text x="184" y="2091.3" textLength="31.5" lengthAdjust="spacingAndGlyphs">100</text>
<circle cx="218.3" cy="2080.3" r="1.9" fill="none" stroke="#3d4b82" stroke-width="1.3"/>
<text x="221.1" y="2091.3">C</text>
<text x="243.3" y="2091.3" textLength="21" lengthAdjust="spacingAndGlyphs">20</text>
<circle cx="267.1" cy="2080.3" r="1.9" fill="none" stroke="#3d4b82" stroke-width="1.3"/>
<text x="269.90000000000003" y="2091.3">C</text>
</g>
<text x="148.5" y="1361.9" font-size="26.5" class="b" fill="#3d4b82">P</text>
<text x="167" y="1364.5" font-size="12" class="b" fill="#3d4b82">v</text>
<text x="174.5" y="1361.9" font-size="26.5" class="b" fill="#3d4b82" textLength="48" lengthAdjust="spacingAndGlyphs">, Па</text>
<text x="672.5" y="2120.7" font-size="25.5" class="b" fill="#3d4b82" textLength="63" lengthAdjust="spacingAndGlyphs">Q, 10</text>
<text x="736.5" y="2110.5" font-size="14" class="b" fill="#3d4b82">3</text>
<circle cx="749.5" cy="2112" r="2" fill="#3d4b82"/>
<text x="754.5" y="2120.7" font-size="25.5" class="b" fill="#3d4b82">м</text>
<text x="773.5" y="2110.5" font-size="14" class="b" fill="#3d4b82">3</text>
<text x="781.5" y="2120.7" font-size="25.5" class="b" fill="#3d4b82" textLength="58" lengthAdjust="spacingAndGlyphs">/год</text>
</g>
</g>
<g id="draw1">
<defs><linearGradient id="wmg" x1="0" y1="0" x2="0" y2="1"><stop offset="0" stop-color="#ffffff" stop-opacity="0.72"/><stop offset="0.55" stop-color="#e6e6e6" stop-opacity="0.62"/><stop offset="1" stop-color="#9c9c9c" stop-opacity="0.55"/></linearGradient></defs>
<path d="M641.3 455.5L620.3 439.6L614.5 438L607.7 440.3L609.9 444.6L611.9 449.1L613.6 453.8L615.1 458.5L616.4 463.4L617.4 468.3L618.2 473.3L618.7 478.4L618.9 483.5L618.9 488.7L618.6 493.8L618 499L617.1 504.2L616 509.3L614.5 514.4L612.8 519.5L610.9 524.4L608.6 529.3L606.1 534.1L603.3 538.8L600.3 543.3L597 547.7L593.5 551.9L589.7 556L585.7 559.9L581.4 563.6L577 567L572.4 570.3L567.5 573.3L562.5 576.1L557.4 578.6L552 580.8L546.6 582.8L541 584.5L535.3 585.9L529.5 587L523.7 587.8L517.7 588.3L511.8 588.5L505.8 588.3L499.8 587.9L493.7 587.1L487.8 586L481.8 584.6L475.9 582.9L470.1 580.8L464.4 578.4L458.7 575.7L453.3 572.8L447.9 569.5L442.7 565.9L437.7 562L432.8 557.9L428.2 553.5L423.8 548.8L419.6 543.9L415.7 538.7L412 533.3L408.6 527.7L405.5 521.9L402.7 516L400.2 509.8L398 503.6L396.1 497.1L394.6 490.6L393.4 484L392.6 477.3L392.1 470.5L392 463.7L392.2 456.8L392.8 449.9L393.8 443.1L395.1 436.3L396.8 429.5L398.8 422.9L401.3 416.3L404 409.8L407.1 403.4L410.6 397.2L414.4 391.2L418.5 385.3L423 379.6L427.7 374.2L432.8 369L438.1 364.1L443.7 359.4L449.6 355L455.7 350.9L462.1 347.1L468.6 343.7L475.4 340.6L482.4 337.8L489.5 335.4L496.7 333.4L504.1 331.7L511.6 330.5L519.2 329.6L526.8 329.1L534.5 329.1L542.2 329.4L549.9 330.1L560 333.2L666.5 361.4Z" fill="#b1b1b1" stroke="#1c1b1a" stroke-width="2" stroke-linejoin="round"/>
<line x1="670.4" y1="354.2" x2="640.5" y2="464" stroke="#1c1b1a" stroke-width="3" />
<path d="M459.3 554.8 A101.3 101.3 0 1 1 575.4 560.9" fill="none" stroke="#1c1b1a" stroke-width="2.4"/>
<path d="M612.7 440.1 A97.5 97.5 0 0 1 617.1 495.3" fill="none" stroke="#fff" stroke-width="0"/>
<circle cx="521.7" cy="475.0" r="87.6" fill="none" stroke="#1c1b1a" stroke-width="2.2"/>
<circle cx="605.6" cy="486" r="2.9" fill="#1c1b1a"/>
<circle cx="599.9" cy="507.4" r="2.9" fill="#1c1b1a"/>
<circle cx="588.8" cy="526.5" r="2.9" fill="#1c1b1a"/>
<circle cx="573.2" cy="542.1" r="2.9" fill="#1c1b1a"/>
<circle cx="554.1" cy="553.2" r="2.9" fill="#1c1b1a"/>
<circle cx="532.7" cy="558.9" r="2.9" fill="#1c1b1a"/>
<circle cx="510.7" cy="558.9" r="2.9" fill="#1c1b1a"/>
<circle cx="489.3" cy="553.2" r="2.9" fill="#1c1b1a"/>
<circle cx="470.2" cy="542.1" r="2.9" fill="#1c1b1a"/>
<circle cx="454.6" cy="526.5" r="2.9" fill="#1c1b1a"/>
<circle cx="443.5" cy="507.4" r="2.9" fill="#1c1b1a"/>
<circle cx="437.8" cy="486" r="2.9" fill="#1c1b1a"/>
<circle cx="437.8" cy="464" r="2.9" fill="#1c1b1a"/>
<circle cx="443.5" cy="442.6" r="2.9" fill="#1c1b1a"/>
<circle cx="454.6" cy="423.5" r="2.9" fill="#1c1b1a"/>
<circle cx="470.2" cy="407.9" r="2.9" fill="#1c1b1a"/>
<circle cx="489.3" cy="396.8" r="2.9" fill="#1c1b1a"/>
<circle cx="510.7" cy="391.1" r="2.9" fill="#1c1b1a"/>
<circle cx="532.7" cy="391.1" r="2.9" fill="#1c1b1a"/>
<circle cx="554.1" cy="396.8" r="2.9" fill="#1c1b1a"/>
<circle cx="573.2" cy="407.9" r="2.9" fill="#1c1b1a"/>
<circle cx="588.8" cy="423.5" r="2.9" fill="#1c1b1a"/>
<circle cx="599.9" cy="442.6" r="2.9" fill="#1c1b1a"/>
<circle cx="605.6" cy="464" r="2.9" fill="#1c1b1a"/>
<path d="M620.4 497.8L619.5 482.5L625.5 483.4Z" fill="#1c1b1a"/>
<rect x="473" y="408" width="98" height="152" fill="#b4b4b4"/>
<rect x="471.5" y="404.5" width="101" height="5" fill="#1c1b1a"/>
<rect x="471.8" y="408" width="5.2" height="152" fill="#1c1b1a"/>
<rect x="566.4" y="408" width="5.2" height="152" fill="#1c1b1a"/>
<line x1="484.7" y1="410" x2="484.7" y2="516" stroke="#1c1b1a" stroke-width="1.6" />
<line x1="558.6" y1="410" x2="558.6" y2="516" stroke="#1c1b1a" stroke-width="1.6" />
<rect x="477" y="409.5" width="7" height="106" fill="#c9c9c9"/><rect x="559.4" y="409.5" width="7" height="106" fill="#c9c9c9"/>
<rect x="474.5" y="516" width="95" height="43" fill="#b6b6b6" stroke="#1c1b1a" stroke-width="1.3"/>
<line x1="486" y1="532.6" x2="558" y2="532.6" stroke="#1c1b1a" stroke-width="1.2" />
<rect x="474" y="516" width="12" height="43" fill="#cacaca" stroke="#1c1b1a" stroke-width="1"/><rect x="558" y="516" width="12" height="43" fill="#cacaca" stroke="#1c1b1a" stroke-width="1"/>
<rect x="473.5" y="558.5" width="97" height="11.5" fill="#cbcbcb" stroke="#1c1b1a" stroke-width="1.4"/>
<defs><radialGradient id="mot1" cx="0.5" cy="0.45" r="0.6"><stop offset="0" stop-color="#4c5aa6"/><stop offset="0.6" stop-color="#3d4a94"/><stop offset="1" stop-color="#2e376f"/></radialGradient></defs>
<rect x="509.4" y="416.5" width="25.3" height="24" fill="#3b468a" stroke="#252b55" stroke-width="1"/>
<rect x="483.4" y="504.7" width="11.1" height="11" fill="#2a3166"/><rect x="550" y="504.7" width="11" height="11" fill="#2a3166"/><rect x="494" y="508" width="56" height="6" fill="#23284f"/>
<circle cx="520.9" cy="477.2" r="38" fill="#313a78" stroke="#22274d" stroke-width="1.6"/>
<circle cx="520.9" cy="477.2" r="34.2" fill="url(#mot1)" stroke="#262c5a" stroke-width="1.2"/>
<line x1="519.3" y1="429.5" x2="527.7" y2="429.5" stroke="#1c1b1a" stroke-width="0.9" />
<line x1="521.4" y1="425.9" x2="525.6" y2="433.1" stroke="#1c1b1a" stroke-width="0.9" />
<line x1="525.6" y1="425.9" x2="521.4" y2="433.1" stroke="#1c1b1a" stroke-width="0.9" />
<path d="M425 542 L449 549 L449 546 L453 547 L453 553 L474 560" fill="none" stroke="#1c1b1a" stroke-width="1.6"/>
<line x1="461.3" y1="571.5" x2="582.3" y2="571.5" stroke="#1c1b1a" stroke-width="2.4" />
<line x1="522.2" y1="567.5" x2="552.7" y2="578.5" stroke="#1c1b1a" stroke-width="1.4" />
<line x1="348" y1="474.6" x2="725" y2="474.6" stroke="#1c1b1a" stroke-width="1.1" />
<line x1="348" y1="409.6" x2="673" y2="409.6" stroke="#1c1b1a" stroke-width="1.1" />
<line x1="520.9" y1="300" x2="520.9" y2="638" stroke="#1c1b1a" stroke-width="1.1" />
<line x1="521" y1="330.5" x2="725" y2="330.5" stroke="#1c1b1a" stroke-width="1.0" />
<line x1="510.6" y1="588" x2="725" y2="588" stroke="#1c1b1a" stroke-width="1.0" />
<line x1="654.7" y1="298" x2="654.7" y2="411" stroke="#1c1b1a" stroke-width="1.0" />
<line x1="392.4" y1="464" x2="392.4" y2="638" stroke="#1c1b1a" stroke-width="1.0" />
<line x1="670.6" y1="356" x2="670.6" y2="638" stroke="#1c1b1a" stroke-width="1.0" />
<line x1="520.9" y1="475" x2="638" y2="505.7" stroke="#1c1b1a" stroke-width="1.0" />
<line x1="633.9" y1="405.1" x2="675.8" y2="415.6" stroke="#1c1b1a" stroke-width="1.0" />
<line x1="525.5" y1="330.5" x2="536.5" y2="330.5" stroke="#1c1b1a" stroke-width="1.2" />
<line x1="528.2" y1="325.7" x2="533.8" y2="335.3" stroke="#1c1b1a" stroke-width="1.2" />
<line x1="533.8" y1="325.7" x2="528.2" y2="335.3" stroke="#1c1b1a" stroke-width="1.2" />
<line x1="387.3" y1="465.8" x2="398.3" y2="465.8" stroke="#1c1b1a" stroke-width="1.2" />
<line x1="390.1" y1="461" x2="395.6" y2="470.6" stroke="#1c1b1a" stroke-width="1.2" />
<line x1="395.6" y1="461" x2="390.1" y2="470.6" stroke="#1c1b1a" stroke-width="1.2" />
<line x1="506" y1="588.7" x2="517" y2="588.7" stroke="#1c1b1a" stroke-width="1.2" />
<line x1="508.8" y1="583.9" x2="514.2" y2="593.5" stroke="#1c1b1a" stroke-width="1.2" />
<line x1="514.2" y1="583.9" x2="508.8" y2="593.5" stroke="#1c1b1a" stroke-width="1.2" />
<line x1="651.3" y1="409.8" x2="661.3" y2="409.8" stroke="#1c1b1a" stroke-width="1.1" />
<line x1="653.8" y1="405.5" x2="658.8" y2="414.1" stroke="#1c1b1a" stroke-width="1.1" />
<line x1="658.8" y1="405.5" x2="653.8" y2="414.1" stroke="#1c1b1a" stroke-width="1.1" />
<line x1="439.5" y1="509" x2="449.5" y2="509" stroke="#1c1b1a" stroke-width="1.2" />
<line x1="442" y1="504.7" x2="447" y2="513.3" stroke="#1c1b1a" stroke-width="1.2" />
<line x1="447" y1="504.7" x2="442" y2="513.3" stroke="#1c1b1a" stroke-width="1.2" />
<line x1="521.5" y1="305.3" x2="654.5" y2="305.3" stroke="#1c1b1a" stroke-width="2.2" />
<path d="M654.5 305.3L637.5 308.3L637.5 302.3Z" fill="#1c1b1a"/>
<path d="M521.5 305.3L538.5 302.3L538.5 308.3Z" fill="#1c1b1a"/>
<text x="589" y="300.5" font-size="24.5" text-anchor="middle" fill="#1c1b1a">833</text>
<line x1="721.2" y1="331" x2="721.2" y2="474.3" stroke="#1c1b1a" stroke-width="1.8" />
<path d="M721.2 474.3L718.2 457.3L724.2 457.3Z" fill="#1c1b1a"/>
<path d="M721.2 331L724.2 348L718.2 348Z" fill="#1c1b1a"/>
<line x1="721.2" y1="475" x2="721.2" y2="587.7" stroke="#1c1b1a" stroke-width="1.8" />
<path d="M721.2 587.7L718.2 570.7L724.2 570.7Z" fill="#1c1b1a"/>
<path d="M721.2 475L724.2 492L718.2 492Z" fill="#1c1b1a"/>
<text x="717.3" y="402.4" font-size="24.5" text-anchor="middle" fill="#1c1b1a" transform="rotate(-90 717.3 402.4)">899</text>
<text x="717.3" y="537.2" font-size="24.5" text-anchor="middle" fill="#1c1b1a" transform="rotate(-90 717.3 537.2)">699</text>
<line x1="392.6" y1="634.2" x2="520.7" y2="634.2" stroke="#1c1b1a" stroke-width="1.8" />
<path d="M520.7 634.2L503.7 637.2L503.7 631.2Z" fill="#1c1b1a"/>
<path d="M392.6 634.2L409.6 631.2L409.6 637.2Z" fill="#1c1b1a"/>
<line x1="521.1" y1="634.2" x2="670.4" y2="634.2" stroke="#1c1b1a" stroke-width="1.8" />
<path d="M670.4 634.2L653.4 637.2L653.4 631.2Z" fill="#1c1b1a"/>
<path d="M521.1 634.2L538.1 631.2L538.1 637.2Z" fill="#1c1b1a"/>
<text x="461.6" y="626.1" font-size="24.5" text-anchor="middle" fill="#1c1b1a">799</text>
<text x="598" y="626.1" font-size="24.5" text-anchor="middle" fill="#1c1b1a">926</text>
<line x1="354.3" y1="381" x2="354.3" y2="549.5" stroke="#1c1b1a" stroke-width="1.6" />
<path d="M354.3 409.4L351.6 396.4L357 396.4Z" fill="#1c1b1a"/>
<path d="M354.3 474.8L357 487.8L351.6 487.8Z" fill="#1c1b1a"/>
<text x="349.6" y="522.5" font-size="24.5" text-anchor="middle" fill="#1c1b1a" transform="rotate(-90 349.6 522.5)">406</text>
<text x="387.3" y="352.2" font-size="25" text-anchor="start" fill="#1c1b1a">195°</text>
<path d="M382.6 357.3 H439 L467.6 388.2" fill="none" stroke="#1c1b1a" stroke-width="1.1"/>
<text x="663.9" y="321.3" font-size="24.5" text-anchor="start" fill="#1c1b1a" textLength="168" lengthAdjust="spacingAndGlyphs">Вихід повітря</text>
<line x1="671.5" y1="339.8" x2="711" y2="350" stroke="#1c1b1a" stroke-width="3.2" />
<path d="M711 350L689.5 349.2L691.8 340.3Z" fill="#1c1b1a"/>
<text x="677.6" y="447.7" font-size="29" text-anchor="start" fill="#1c1b1a" class="b">Б</text>
<line x1="695.5" y1="460.8" x2="649" y2="449.3" stroke="#1c1b1a" stroke-width="2.2" />
<path d="M649 449.3L670.3 450.5L668.4 458.2Z" fill="#1c1b1a"/>
<text x="385.5" y="490" font-size="41" class="b" fill="url(#wmg)" stroke="#d4d4d4" stroke-opacity="0.3" stroke-width="0.8" textLength="260.5" lengthAdjust="spacingAndGlyphs">ukrvent.ua</text>
</g>
<g id="draw2">
<defs>
<linearGradient id="cyl2" x1="0" x2="1" y1="0" y2="0"><stop offset="0" stop-color="#6f6f6f"/><stop offset="0.12" stop-color="#9a9a9a"/><stop offset="0.45" stop-color="#d2d2d2"/><stop offset="0.62" stop-color="#c4c4c4"/><stop offset="0.9" stop-color="#8a8a8a"/><stop offset="1" stop-color="#6c6c6c"/></linearGradient>
<linearGradient id="col2" x1="0" x2="0" y1="0" y2="1"><stop offset="0" stop-color="#e4e4e4"/><stop offset="0.35" stop-color="#a8a8a8"/><stop offset="1" stop-color="#6c6c6c"/></linearGradient>
<linearGradient id="mot2" x1="0" x2="0" y1="0" y2="1"><stop offset="0" stop-color="#2f376f"/><stop offset="0.18" stop-color="#4a58ac"/><stop offset="0.5" stop-color="#3b4690"/><stop offset="1" stop-color="#2a3166"/></linearGradient>
</defs>
<rect x="1080.8" y="327" width="63.5" height="23" fill="#fff" stroke="#1c1b1a" stroke-width="1.6"/>
<line x1="1080.8" y1="333.3" x2="1144.3" y2="333.3" stroke="#1c1b1a" stroke-width="1.6" />
<rect x="1144.5" y="338.5" width="9" height="11" fill="#9c9c9c" stroke="#555" stroke-width="0.8"/>
<rect x="1072" y="462" width="10" height="97" fill="#8c8c8c"/>
<rect x="1145" y="461" width="8.6" height="109" fill="#8f8f8f"/>
<rect x="1081.5" y="455" width="63.7" height="135" fill="url(#cyl2)"/>
<line x1="1081.5" y1="455" x2="1081.5" y2="590" stroke="#1c1b1a" stroke-width="1.6" />
<line x1="1145.2" y1="455" x2="1145.2" y2="590" stroke="#1c1b1a" stroke-width="1.6" />
<line x1="1081.5" y1="590" x2="1145.2" y2="590" stroke="#1c1b1a" stroke-width="1.2" />
<line x1="1081.5" y1="508.7" x2="1145.2" y2="508.7" stroke="#1c1b1a" stroke-width="1.2" />
<rect x="1074.5" y="487" width="4.5" height="4" fill="#1c1b1a"/>
<rect x="1074.5" y="508" width="4.5" height="4" fill="#1c1b1a"/>
<rect x="1074.5" y="528" width="4.5" height="4" fill="#1c1b1a"/>
<rect x="1074.5" y="544.5" width="4.5" height="4" fill="#1c1b1a"/>
<rect x="1158.6" y="455.9" width="38.6" height="75.8" fill="url(#col2)"/>
<rect x="1153" y="408.6" width="5.6" height="133" fill="#1c1b1a"/>
<rect x="1196.8" y="408.6" width="3.6" height="133" fill="#1c1b1a"/>
<line x1="1171" y1="416.5" x2="1197" y2="416.5" stroke="#1c1b1a" stroke-width="1.6" />
<line x1="1190" y1="420.4" x2="1197" y2="420.4" stroke="#1c1b1a" stroke-width="2" />
<line x1="1190" y1="497.2" x2="1197" y2="497.2" stroke="#1c1b1a" stroke-width="2" />
<line x1="1171" y1="474.6" x2="1193" y2="474.6" stroke="#1c1b1a" stroke-width="1.6" />
<line x1="1168.4" y1="393" x2="1168.4" y2="556" stroke="#1c1b1a" stroke-width="2.6" />
<rect x="1160" y="404.6" width="21" height="4" fill="#1c1b1a"/><rect x="1163" y="411.1" width="15" height="3.2" fill="#1c1b1a"/>
<rect x="1166" y="400.6" width="5" height="18" fill="#1c1b1a"/>
<rect x="1160.5" y="426.1" width="18" height="4.4" rx="2" fill="#1c1b1a"/><ellipse cx="1178.5" cy="428.3" rx="3" ry="6.5" fill="#1c1b1a"/>
<path d="M1168.4 440 l4.2 8 l-4.2 9 l-4.2 -9Z" fill="#1c1b1a"/><rect x="1158" y="443" width="6" height="3.5" fill="#1c1b1a"/>
<rect x="1158.6" y="472.0" width="34" height="5.2" rx="2" fill="#1c1b1a" opacity="0.85"/>
<rect x="1160" y="499" width="21" height="4" fill="#1c1b1a"/><rect x="1163" y="505.5" width="15" height="3.2" fill="#1c1b1a"/>
<rect x="1166" y="495" width="5" height="18" fill="#1c1b1a"/>
<rect x="1160.5" y="519.6999999999999" width="18" height="4.4" rx="2" fill="#1c1b1a"/><ellipse cx="1178.5" cy="521.9" rx="3" ry="6.5" fill="#1c1b1a"/>
<rect x="1160" y="532.6" width="21" height="4" fill="#1c1b1a"/><rect x="1163" y="539.1" width="15" height="3.2" fill="#1c1b1a"/>
<rect x="1166" y="528.6" width="5" height="18" fill="#1c1b1a"/>
<rect x="1070.4" y="350" width="85" height="105.2" fill="#9d9d9d" stroke="#1c1b1a" stroke-width="1.4"/>
<rect x="1079.8" y="360" width="65.5" height="76" fill="#5f363d"/>
<rect x="1112" y="360" width="33.3" height="76" fill="#6c4048"/>
<rect x="1079.8" y="435.8" width="65.5" height="18.7" fill="#d2646a"/>
<rect x="1112" y="435.8" width="33.3" height="18.7" fill="#c9575f"/>
<path d="M1086 390 H1113 V433 H1086Z" fill="#2e191d"/>
<line x1="1087" y1="396" x2="1112" y2="396" stroke="#4a2a30" stroke-width="1.2" />
<line x1="1087" y1="403" x2="1112" y2="403" stroke="#4a2a30" stroke-width="1.2" />
<line x1="1087" y1="410" x2="1112" y2="410" stroke="#4a2a30" stroke-width="1.2" />
<line x1="1087" y1="417" x2="1112" y2="417" stroke="#4a2a30" stroke-width="1.2" />
<line x1="1087" y1="424" x2="1112" y2="424" stroke="#4a2a30" stroke-width="1.2" />
<path d="M1113 391 L1131 417 V433 H1113Z" fill="#a84a55"/>
<rect x="1133.2" y="419.2" width="10.2" height="12.8" fill="#fff"/>
<circle cx="1076" cy="354.8" r="1.9" fill="#1c1b1a"/>
<circle cx="1094.5" cy="354.8" r="1.9" fill="#1c1b1a"/>
<circle cx="1113" cy="354.8" r="1.9" fill="#1c1b1a"/>
<circle cx="1131.5" cy="354.8" r="1.9" fill="#1c1b1a"/>
<circle cx="1150" cy="354.8" r="1.9" fill="#1c1b1a"/>
<circle cx="1076" cy="372.5" r="1.9" fill="#1c1b1a"/><circle cx="1150" cy="372.5" r="1.9" fill="#1c1b1a"/>
<circle cx="1076" cy="390.5" r="1.9" fill="#1c1b1a"/><circle cx="1150" cy="390.5" r="1.9" fill="#1c1b1a"/>
<circle cx="1076" cy="408.5" r="1.9" fill="#1c1b1a"/><circle cx="1150" cy="408.5" r="1.9" fill="#1c1b1a"/>
<circle cx="1076" cy="426" r="1.9" fill="#1c1b1a"/><circle cx="1150" cy="426" r="1.9" fill="#1c1b1a"/>
<circle cx="1076" cy="443.5" r="1.9" fill="#1c1b1a"/><circle cx="1150" cy="443.5" r="1.9" fill="#1c1b1a"/>
<rect x="1071" y="455" width="84" height="9.5" fill="#9a9a9a" stroke="#1c1b1a" stroke-width="1"/>
<circle cx="1094.5" cy="461" r="1.7" fill="#1c1b1a"/>
<circle cx="1113" cy="461" r="1.7" fill="#1c1b1a"/>
<circle cx="1131.5" cy="461" r="1.7" fill="#1c1b1a"/>
<path d="M1070.4 409.5 H1058 a11 13.8 0 0 0 0 27.6 H1070.4Z" fill="#a9a9a9" stroke="#1c1b1a" stroke-width="1.5"/>
<ellipse cx="1062.5" cy="423.3" rx="5" ry="8" fill="#3b468a" stroke="#20264f" stroke-width="1.4"/>
<path d="M957 433 H1067.6 V516 H957 Q946.6 516 946.6 505 V444 Q946.6 433 957 433Z" fill="url(#mot2)" stroke="#1e2348" stroke-width="1.2"/>
<rect x="963.5" y="437" width="85" height="64.5" fill="#14162c"/>
<rect x="964.5" y="440.5" width="83" height="3.2" fill="#343d80"/>
<rect x="964.5" y="448" width="83" height="3.2" fill="#343d80"/>
<rect x="964.5" y="455.5" width="83" height="3.2" fill="#343d80"/>
<rect x="964.5" y="463" width="83" height="3.2" fill="#343d80"/>
<rect x="964.5" y="470.5" width="83" height="3.2" fill="#343d80"/>
<rect x="964.5" y="478" width="83" height="3.2" fill="#343d80"/>
<rect x="964.5" y="485.5" width="83" height="3.2" fill="#343d80"/>
<rect x="964.5" y="493" width="83" height="3.2" fill="#343d80"/>
<rect x="985" y="503.5" width="11" height="9" fill="#15172b"/><rect x="1044" y="503.5" width="11" height="9" fill="#15172b"/>
<rect x="983.6" y="516" width="11.2" height="45" fill="#c9c9c9" stroke="#1c1b1a" stroke-width="1.2"/>
<rect x="994.8" y="518" width="83" height="14.8" fill="#cfcfcf" stroke="#1c1b1a" stroke-width="0.8"/>
<rect x="994.8" y="545.7" width="83" height="14.8" fill="#cfcfcf" stroke="#1c1b1a" stroke-width="0.8"/>
<rect x="970.6" y="560.5" width="109" height="12.9" fill="#cdcdcd" stroke="#1c1b1a" stroke-width="1.6"/>
<line x1="970.6" y1="573.8" x2="1081" y2="573.8" stroke="#1c1b1a" stroke-width="2.4" />
<line x1="930" y1="474.6" x2="1203" y2="474.6" stroke="#1c1b1a" stroke-width="1.1" />
<line x1="1113.4" y1="281" x2="1113.4" y2="620.5" stroke="#1c1b1a" stroke-width="1.1" />
<line x1="1157.6" y1="305" x2="1157.6" y2="352" stroke="#1c1b1a" stroke-width="1.0" />
<line x1="1200.4" y1="281" x2="1200.4" y2="709" stroke="#1c1b1a" stroke-width="1.0" />
<line x1="947.6" y1="517" x2="947.6" y2="709" stroke="#1c1b1a" stroke-width="1.0" />
<line x1="971.2" y1="574" x2="971.2" y2="667" stroke="#1c1b1a" stroke-width="1.0" />
<line x1="851" y1="476.1" x2="947" y2="476.1" stroke="#1c1b1a" stroke-width="1.0" />
<line x1="851" y1="573.6" x2="971" y2="573.6" stroke="#1c1b1a" stroke-width="1.0" />
<line x1="1113.6" y1="285.5" x2="1200.2" y2="285.5" stroke="#1c1b1a" stroke-width="1.8" />
<path d="M1200.2 285.5L1183.2 288.5L1183.2 282.5Z" fill="#1c1b1a"/>
<path d="M1113.6 285.5L1130.6 282.5L1130.6 288.5Z" fill="#1c1b1a"/>
<text x="1158" y="278.8" font-size="24.5" text-anchor="middle" fill="#1c1b1a">529</text>
<line x1="1050.4" y1="309.9" x2="1113.2" y2="309.9" stroke="#1c1b1a" stroke-width="1.6" />
<path d="M1113.2 309.9L1096.2 312.9L1096.2 306.9Z" fill="#1c1b1a"/>
<line x1="1185.7" y1="309.9" x2="1157.8" y2="309.9" stroke="#1c1b1a" stroke-width="1.6" />
<path d="M1157.8 309.9L1174.8 306.9L1174.8 312.9Z" fill="#1c1b1a"/>
<text x="1076" y="305.4" font-size="24.5" text-anchor="middle" fill="#1c1b1a">267</text>
<line x1="856.3" y1="476.3" x2="856.3" y2="573.4" stroke="#1c1b1a" stroke-width="1.8" />
<path d="M856.3 573.4L853.3 556.4L859.3 556.4Z" fill="#1c1b1a"/>
<path d="M856.3 476.3L859.3 493.3L853.3 493.3Z" fill="#1c1b1a"/>
<text x="851" y="522.6" font-size="24.5" text-anchor="middle" fill="#1c1b1a" transform="rotate(-90 851 522.6)">602</text>
<line x1="971.4" y1="661.4" x2="1200.2" y2="661.4" stroke="#1c1b1a" stroke-width="1.8" />
<path d="M1200.2 661.4L1183.2 664.4L1183.2 658.4Z" fill="#1c1b1a"/>
<path d="M971.4 661.4L988.4 658.4L988.4 664.4Z" fill="#1c1b1a"/>
<text x="1085.5" y="655.7" font-size="24.5" text-anchor="middle" fill="#1c1b1a">1396</text>
<line x1="947.8" y1="701.3" x2="1200.2" y2="701.3" stroke="#1c1b1a" stroke-width="1.8" />
<path d="M1200.2 701.3L1183.2 704.3L1183.2 698.3Z" fill="#1c1b1a"/>
<path d="M947.8 701.3L964.8 698.3L964.8 704.3Z" fill="#1c1b1a"/>
<text x="1087.2" y="695.6" font-size="24.5" text-anchor="middle" fill="#1c1b1a">max1538*</text>
<text x="890" y="536" font-size="26" text-anchor="start" fill="#1c1b1a" class="b">A</text>
<text x="1238.5" y="536" font-size="26" text-anchor="start" fill="#1c1b1a" class="b">A</text>
<line x1="917.4" y1="518.5" x2="917.4" y2="568.8" stroke="#1c1b1a" stroke-width="1.3" />
<path d="M917.4 568.8L913.2 539.8L921.6 539.8Z" fill="#1c1b1a"/>
<line x1="1229.5" y1="518.5" x2="1229.5" y2="568.8" stroke="#1c1b1a" stroke-width="1.3" />
<path d="M1229.5 568.8L1225.3 539.8L1233.7 539.8Z" fill="#1c1b1a"/>
<line x1="898.8" y1="570.2" x2="938.8" y2="570.2" stroke="#1c1b1a" stroke-width="2.2" />
<line x1="1209.2" y1="570.2" x2="1250" y2="570.2" stroke="#1c1b1a" stroke-width="2.2" />
<text x="1248.6" y="451.7" font-size="28" text-anchor="start" fill="#1c1b1a" class="b">B</text>
<line x1="1261" y1="460.3" x2="1212.3" y2="460.3" stroke="#1c1b1a" stroke-width="1.3" />
<path d="M1212.3 460.3L1240.3 456L1240.3 464.6Z" fill="#1c1b1a"/>
<line x1="1253.6" y1="479.5" x2="1213.2" y2="479.5" stroke="#1c1b1a" stroke-width="3" />
<path d="M1213.2 479.5L1229.2 475.5L1229.2 483.5Z" fill="#1c1b1a"/>
<text x="1230" y="504.9" font-size="24.5" text-anchor="start" fill="#1c1b1a" textLength="153" lengthAdjust="spacingAndGlyphs">Вхід повітря</text>
<text x="917.4" y="356.4" font-size="21.5" text-anchor="middle" fill="#c8403f" class="b" textLength="164" lengthAdjust="spacingAndGlyphs">Електродвигун</text>
<text x="916.3" y="382.1" font-size="21.5" text-anchor="middle" fill="#c8403f" class="b" textLength="250.6" lengthAdjust="spacingAndGlyphs">у комплект постачання</text>
<text x="916.8" y="407.4" font-size="21.5" text-anchor="middle" fill="#c8403f" class="b" textLength="121" lengthAdjust="spacingAndGlyphs">не входить</text>
<line x1="968.4" y1="405.2" x2="1010.5" y2="480.5" stroke="#c8403f" stroke-width="0.9" />
<text x="1350.1" y="360.8" font-size="21.5" text-anchor="middle" fill="#c8403f" class="b" textLength="244.7" lengthAdjust="spacingAndGlyphs">Направляючий апарат</text>
<text x="1349.2" y="386.1" font-size="21.5" text-anchor="middle" fill="#c8403f" class="b" textLength="251.9" lengthAdjust="spacingAndGlyphs">у комплект постачання</text>
<text x="1349.7" y="410.5" font-size="21.5" text-anchor="middle" fill="#c8403f" class="b" textLength="119.7" lengthAdjust="spacingAndGlyphs">не входить</text>
<line x1="1245.5" y1="391.9" x2="1181.2" y2="453.9" stroke="#c8403f" stroke-width="0.9" />
<text x="934" y="490" font-size="41" class="b" fill="url(#wmg)" stroke="#d4d4d4" stroke-opacity="0.3" stroke-width="0.8" textLength="264" lengthAdjust="spacingAndGlyphs">ukrvent.ua</text>
</g>
<g id="drawAA">
<defs><linearGradient id="mar1" x1="0" x2="1" y1="0" y2="0"><stop offset="0" stop-color="#b08a8e"/><stop offset="0.1" stop-color="#8a575b"/><stop offset="0.5" stop-color="#663a3e"/><stop offset="0.53" stop-color="#724448"/><stop offset="1" stop-color="#7e5256"/></linearGradient></defs>
<text x="486" y="771.6" font-size="31" text-anchor="middle" fill="#1c1b1a" class="b" textLength="59" lengthAdjust="spacingAndGlyphs">A-A</text>
<rect x="380.2" y="871.3" width="109.5" height="9.8" fill="#a9a9a9" stroke="#1c1b1a" stroke-width="1"/>
<rect x="380.2" y="983.5" width="109.5" height="9.8" fill="#a9a9a9" stroke="#1c1b1a" stroke-width="1"/>
<rect x="380.2" y="881" width="12.5" height="102.5" fill="#a9a9a9" stroke="#1c1b1a" stroke-width="1"/>
<line x1="393.5" y1="883" x2="393.5" y2="981.5" stroke="#1c1b1a" stroke-width="2.4" />
<line x1="394" y1="882" x2="487" y2="882" stroke="#1c1b1a" stroke-width="1.6" />
<line x1="394" y1="982.8" x2="487" y2="982.8" stroke="#1c1b1a" stroke-width="1.6" />
<line x1="487.5" y1="884" x2="487.5" y2="893" stroke="#1c1b1a" stroke-width="2.2" />
<line x1="487.5" y1="970" x2="487.5" y2="981" stroke="#1c1b1a" stroke-width="2.2" />
<rect x="491.1" y="828.4" width="63.7" height="184.2" fill="url(#mar1)"/>
<line x1="491.1" y1="828.4" x2="491.1" y2="1012.6" stroke="#3a1d23" stroke-width="1.6" />
<line x1="554.8" y1="828.4" x2="554.8" y2="1012.6" stroke="#3a1d23" stroke-width="1.2" />
<line x1="491" y1="1012.6" x2="563" y2="1012.6" stroke="#1c1b1a" stroke-width="2.2" />
<line x1="522.9" y1="824" x2="522.9" y2="1057" stroke="#1c1b1a" stroke-width="1.0" />
<line x1="526.3" y1="829" x2="526.3" y2="1012" stroke="#2a1418" stroke-width="0.9" />
<line x1="363.6" y1="931.7" x2="554.8" y2="931.7" stroke="#1c1b1a" stroke-width="1.0" />
<circle cx="416.3" cy="876.6" r="2.6" fill="#777" stroke="#1c1b1a" stroke-width="0.9"/><line x1="412.3" y1="876.6" x2="420.3" y2="876.6" stroke="#1c1b1a" stroke-width="0.7" />
<line x1="416.3" y1="872.6" x2="416.3" y2="880.6" stroke="#1c1b1a" stroke-width="0.7" />
<circle cx="470.3" cy="876.3" r="2.6" fill="#777" stroke="#1c1b1a" stroke-width="0.9"/><line x1="466.3" y1="876.3" x2="474.3" y2="876.3" stroke="#1c1b1a" stroke-width="0.7" />
<line x1="470.3" y1="872.3" x2="470.3" y2="880.3" stroke="#1c1b1a" stroke-width="0.7" />
<circle cx="416.3" cy="988.2" r="2.6" fill="#777" stroke="#1c1b1a" stroke-width="0.9"/><line x1="412.3" y1="988.2" x2="420.3" y2="988.2" stroke="#1c1b1a" stroke-width="0.7" />
<line x1="416.3" y1="984.2" x2="416.3" y2="992.2" stroke="#1c1b1a" stroke-width="0.7" />
<circle cx="470.3" cy="988.2" r="2.6" fill="#777" stroke="#1c1b1a" stroke-width="0.9"/><line x1="466.3" y1="988.2" x2="474.3" y2="988.2" stroke="#1c1b1a" stroke-width="0.7" />
<line x1="470.3" y1="984.2" x2="470.3" y2="992.2" stroke="#1c1b1a" stroke-width="0.7" />
<text x="422.4" y="807.6" font-size="24.5" text-anchor="start" fill="#1c1b1a" textLength="142" lengthAdjust="spacingAndGlyphs">Вісь корпусу</text>
<path d="M421.8 814.5 H566.7 L524.3 871.3" fill="none" stroke="#1c1b1a" stroke-width="1"/>
<text x="335.9" y="840.8" font-size="24.5" text-anchor="start" fill="#1c1b1a" textLength="111.4" lengthAdjust="spacingAndGlyphs">4 отв. ø26</text>
<line x1="331.2" y1="847.8" x2="450.9" y2="847.8" stroke="#1c1b1a" stroke-width="1" />
<line x1="450.9" y1="847.8" x2="484.1" y2="899" stroke="#1c1b1a" stroke-width="2.2" />
<path d="M469 875.5L458.3 864.6L463.3 861.3Z" fill="#1c1b1a"/>
<path d="M471.8 880L482.5 890.9L477.5 894.2Z" fill="#1c1b1a"/>
<text x="394.1" y="928.1" font-size="24.5" text-anchor="start" fill="#1c1b1a" textLength="106.7" lengthAdjust="spacingAndGlyphs">Вісь валу</text>
<line x1="295.7" y1="871.3" x2="380" y2="871.3" stroke="#1c1b1a" stroke-width="1" />
<line x1="295.7" y1="993.2" x2="380" y2="993.2" stroke="#1c1b1a" stroke-width="1" />
<line x1="329" y1="876.3" x2="416" y2="876.3" stroke="#1c1b1a" stroke-width="1" />
<line x1="329" y1="988.2" x2="416" y2="988.2" stroke="#1c1b1a" stroke-width="1" />
<line x1="298.5" y1="871.5" x2="298.5" y2="993" stroke="#1c1b1a" stroke-width="2.2" />
<path d="M298.5 993L294.9 969L302.1 969Z" fill="#1c1b1a"/>
<path d="M298.5 871.5L302.1 895.5L294.9 895.5Z" fill="#1c1b1a"/>
<text x="294.3" y="931.4" font-size="24.5" text-anchor="middle" fill="#1c1b1a" transform="rotate(-90 294.3 931.4)">750</text>
<line x1="332.3" y1="876.5" x2="332.3" y2="988" stroke="#1c1b1a" stroke-width="2.2" />
<path d="M332.3 988L328.7 964L335.9 964Z" fill="#1c1b1a"/>
<path d="M332.3 876.5L335.9 900.5L328.7 900.5Z" fill="#1c1b1a"/>
<text x="329" y="931.4" font-size="24.5" text-anchor="middle" fill="#1c1b1a" transform="rotate(-90 329 931.4)">680</text>
<line x1="367.8" y1="876.5" x2="367.8" y2="931.5" stroke="#1c1b1a" stroke-width="2.2" />
<path d="M367.8 931.5L364.2 909.5L371.4 909.5Z" fill="#1c1b1a"/>
<path d="M367.8 876.5L371.4 898.5L364.2 898.5Z" fill="#1c1b1a"/>
<text x="360.8" y="904.6" font-size="24.5" text-anchor="middle" fill="#1c1b1a" transform="rotate(-90 360.8 904.6)">340</text>
<line x1="416.3" y1="990" x2="416.3" y2="1055.6" stroke="#1c1b1a" stroke-width="1" />
<line x1="470.3" y1="990" x2="470.3" y2="1055.6" stroke="#1c1b1a" stroke-width="1" />
<line x1="416.5" y1="1051.4" x2="470.1" y2="1051.4" stroke="#1c1b1a" stroke-width="2" />
<path d="M470.1 1051.4L457.1 1053.9L457.1 1048.9Z" fill="#1c1b1a"/>
<path d="M416.5 1051.4L429.5 1048.9L429.5 1053.9Z" fill="#1c1b1a"/>
<line x1="470.5" y1="1051.4" x2="522.7" y2="1051.4" stroke="#1c1b1a" stroke-width="2" />
<path d="M522.7 1051.4L509.7 1053.9L509.7 1048.9Z" fill="#1c1b1a"/>
<path d="M470.5 1051.4L483.5 1048.9L483.5 1053.9Z" fill="#1c1b1a"/>
<text x="443.3" y="1044.5" font-size="24.5" text-anchor="middle" fill="#1c1b1a">330</text>
<text x="496.9" y="1044.5" font-size="24.5" text-anchor="middle" fill="#1c1b1a">318</text>
<line x1="380.2" y1="993.2" x2="380.2" y2="1090.2" stroke="#1c1b1a" stroke-width="1" />
<line x1="554.8" y1="1013" x2="554.8" y2="1090.2" stroke="#1c1b1a" stroke-width="1" />
<line x1="380.4" y1="1086" x2="554.6" y2="1086" stroke="#1c1b1a" stroke-width="2" />
<path d="M554.6 1086L530.6 1089.6L530.6 1082.4Z" fill="#1c1b1a"/>
<path d="M380.4 1086L404.4 1082.4L404.4 1089.6Z" fill="#1c1b1a"/>
<text x="465.2" y="1079.7" font-size="24.5" text-anchor="middle" fill="#1c1b1a">1060</text>
<text x="326" y="979" font-size="41" class="b" fill="url(#wmg)" stroke="#d4d4d4" stroke-opacity="0.3" stroke-width="0.8" textLength="280" lengthAdjust="spacingAndGlyphs" transform="rotate(-16.7 326 979)">ukrvent.ua</text>
</g>
<g id="drawB">
<defs><linearGradient id="bl" x1="0" x2="1" y1="0.2" y2="0"><stop offset="0" stop-color="#5e3437"/><stop offset="0.42" stop-color="#7c484b"/><stop offset="0.56" stop-color="#ae6e72"/><stop offset="1" stop-color="#c28285"/></linearGradient><clipPath id="clipB"><circle cx="821" cy="930.7" r="84"/></clipPath></defs>
<text x="820.8" y="770.6" font-size="31" text-anchor="middle" fill="#1c1b1a" class="b">B</text>
<circle cx="821.0" cy="930.7" r="95.8" fill="#979797" stroke="#3a3a3a" stroke-width="1.8"/>
<circle cx="821.0" cy="930.7" r="90" fill="none" stroke="#555" stroke-width="0.9" stroke-dasharray="14 6"/>
<circle cx="821.0" cy="930.7" r="84" fill="url(#bl)" stroke="#1f1012" stroke-width="2.6"/>
<g clip-path="url(#clipB)"><path d="M821 930.7L799.2 843.4L832 841.4Z" fill="#aa7275"/><path d="M821 930.7L832 841.4L845.8 844.2Z" fill="#5c3538"/><line x1="821" y1="930.7" x2="799.2" y2="843.4" stroke="#24110f" stroke-width="1.6" />
<line x1="821" y1="930.7" x2="832" y2="841.4" stroke="#2e1519" stroke-width="1.0" />
<path d="M821 930.7L845.8 844.2L875.2 858.8Z" fill="#b97f82"/><path d="M821 930.7L875.2 858.8L885.7 868.2Z" fill="#653a3d"/><line x1="821" y1="930.7" x2="845.8" y2="844.2" stroke="#24110f" stroke-width="1.6" />
<line x1="821" y1="930.7" x2="875.2" y2="858.8" stroke="#2e1519" stroke-width="1.0" />
<path d="M821 930.7L885.7 868.2L903.8 895.5Z" fill="#c08588"/><path d="M821 930.7L903.8 895.5L908.3 908.9Z" fill="#693c40"/><line x1="821" y1="930.7" x2="885.7" y2="868.2" stroke="#24110f" stroke-width="1.6" />
<line x1="821" y1="930.7" x2="903.8" y2="895.5" stroke="#2e1519" stroke-width="1.0" />
<path d="M821 930.7L908.3 908.9L910.3 941.7Z" fill="#bf8487"/><path d="M821 930.7L910.3 941.7L907.5 955.5Z" fill="#683c40"/><line x1="821" y1="930.7" x2="908.3" y2="908.9" stroke="#24110f" stroke-width="1.6" />
<line x1="821" y1="930.7" x2="910.3" y2="941.7" stroke="#2e1519" stroke-width="1.0" />
<path d="M821 930.7L907.5 955.5L892.9 984.9Z" fill="#b57b7e"/><path d="M821 930.7L892.9 984.9L883.5 995.4Z" fill="#62383c"/><line x1="821" y1="930.7" x2="907.5" y2="955.5" stroke="#24110f" stroke-width="1.6" />
<line x1="821" y1="930.7" x2="892.9" y2="984.9" stroke="#2e1519" stroke-width="1.0" />
<path d="M821 930.7L883.5 995.4L856.2 1013.5Z" fill="#a46d71"/><path d="M821 930.7L856.2 1013.5L842.8 1018Z" fill="#593337"/><line x1="821" y1="930.7" x2="883.5" y2="995.4" stroke="#24110f" stroke-width="1.6" />
<line x1="821" y1="930.7" x2="856.2" y2="1013.5" stroke="#2e1519" stroke-width="1.0" />
<path d="M821 930.7L842.8 1018L810 1020Z" fill="#925e62"/><path d="M821 930.7L810 1020L796.2 1017.2Z" fill="#502d31"/><line x1="821" y1="930.7" x2="842.8" y2="1018" stroke="#24110f" stroke-width="1.6" />
<line x1="821" y1="930.7" x2="810" y2="1020" stroke="#2e1519" stroke-width="1.0" />
<path d="M821 930.7L796.2 1017.2L766.8 1002.6Z" fill="#835155"/><path d="M821 930.7L766.8 1002.6L756.3 993.2Z" fill="#47282c"/><line x1="821" y1="930.7" x2="796.2" y2="1017.2" stroke="#24110f" stroke-width="1.6" />
<line x1="821" y1="930.7" x2="766.8" y2="1002.6" stroke="#2e1519" stroke-width="1.0" />
<path d="M821 930.7L756.3 993.2L738.2 965.9Z" fill="#7c4b4f"/><path d="M821 930.7L738.2 965.9L733.7 952.5Z" fill="#432629"/><line x1="821" y1="930.7" x2="756.3" y2="993.2" stroke="#24110f" stroke-width="1.6" />
<line x1="821" y1="930.7" x2="738.2" y2="965.9" stroke="#2e1519" stroke-width="1.0" />
<path d="M821 930.7L733.7 952.5L731.7 919.7Z" fill="#7d4c50"/><path d="M821 930.7L731.7 919.7L734.5 905.9Z" fill="#442629"/><line x1="821" y1="930.7" x2="733.7" y2="952.5" stroke="#24110f" stroke-width="1.6" />
<line x1="821" y1="930.7" x2="731.7" y2="919.7" stroke="#2e1519" stroke-width="1.0" />
<path d="M821 930.7L734.5 905.9L749.1 876.5Z" fill="#875559"/><path d="M821 930.7L749.1 876.5L758.5 866Z" fill="#4a2a2d"/><line x1="821" y1="930.7" x2="734.5" y2="905.9" stroke="#24110f" stroke-width="1.6" />
<line x1="821" y1="930.7" x2="749.1" y2="876.5" stroke="#2e1519" stroke-width="1.0" />
<path d="M821 930.7L758.5 866L785.8 847.9Z" fill="#986366"/><path d="M821 930.7L785.8 847.9L799.2 843.4Z" fill="#532f32"/><line x1="821" y1="930.7" x2="758.5" y2="866" stroke="#24110f" stroke-width="1.6" />
<line x1="821" y1="930.7" x2="785.8" y2="847.9" stroke="#2e1519" stroke-width="1.0" />
</g>
<circle cx="821.0" cy="930.7" r="5.5" fill="#3a2226" stroke="#1c0f11" stroke-width="1.2"/>
<circle cx="911" cy="930.7" r="1.7" fill="#1c1b1a"/>
<circle cx="898.9" cy="975.7" r="1.7" fill="#1c1b1a"/>
<circle cx="866" cy="1008.6" r="1.7" fill="#1c1b1a"/>
<circle cx="821" cy="1020.7" r="1.7" fill="#1c1b1a"/>
<circle cx="776" cy="1008.6" r="1.7" fill="#1c1b1a"/>
<circle cx="743.1" cy="975.7" r="1.7" fill="#1c1b1a"/>
<circle cx="731" cy="930.7" r="1.7" fill="#1c1b1a"/>
<circle cx="743.1" cy="885.7" r="1.7" fill="#1c1b1a"/>
<circle cx="776" cy="852.8" r="1.7" fill="#1c1b1a"/>
<circle cx="821" cy="840.7" r="1.7" fill="#1c1b1a"/>
<circle cx="866" cy="852.8" r="1.7" fill="#1c1b1a"/>
<circle cx="898.9" cy="885.7" r="1.7" fill="#1c1b1a"/>
<line x1="821" y1="835.9" x2="821" y2="1025.6" stroke="#1c1b1a" stroke-width="1.0" />
<line x1="726.2" y1="930.7" x2="915.9" y2="930.7" stroke="#1c1b1a" stroke-width="1.0" />
<text x="727.4" y="803.9" font-size="24.5" text-anchor="start" fill="#1c1b1a" textLength="55" lengthAdjust="spacingAndGlyphs">ø810</text>
<line x1="722" y1="808.3" x2="788.5" y2="808.3" stroke="#1c1b1a" stroke-width="1" />
<line x1="788.5" y1="808.3" x2="845.6" y2="1023.3" stroke="#1c1b1a" stroke-width="1.2" />
<path d="M796.4 838.1L803 851.9L797.6 853.3Z" fill="#1c1b1a"/>
<path d="M845.6 1023.3L839 1009.5L844.4 1008.1Z" fill="#1c1b1a"/>
<text x="856.7" y="803.9" font-size="24.5" text-anchor="start" fill="#1c1b1a" textLength="54.2" lengthAdjust="spacingAndGlyphs">ø760</text>
<line x1="853.5" y1="808.3" x2="917.1" y2="808.3" stroke="#1c1b1a" stroke-width="1" />
<line x1="853.5" y1="808.3" x2="797.9" y2="1017.7" stroke="#1c1b1a" stroke-width="1.2" />
<path d="M844.1 843.7L843 858.9L837.5 857.5Z" fill="#1c1b1a"/>
<path d="M797.9 1017.7L799 1002.5L804.5 1003.9Z" fill="#1c1b1a"/>
<text x="673.2" y="1069.4" font-size="24.5" text-anchor="start" fill="#1c1b1a" textLength="54.7" lengthAdjust="spacingAndGlyphs">ø700</text>
<line x1="663.9" y1="1073.1" x2="739.8" y2="1073.1" stroke="#1c1b1a" stroke-width="1" />
<line x1="739.8" y1="1073.1" x2="862.6" y2="857.7" stroke="#1c1b1a" stroke-width="1.2" />
<path d="M779.4 1003.7L784.4 989.3L789.3 992Z" fill="#1c1b1a"/>
<path d="M862.6 857.7L857.6 872.1L852.7 869.4Z" fill="#1c1b1a"/>
<text x="850.6" y="1069.4" font-size="24.5" text-anchor="start" fill="#1c1b1a" textLength="120.7" lengthAdjust="spacingAndGlyphs">12 отв.ø14</text>
<line x1="848.1" y1="1073.1" x2="997.1" y2="1073.1" stroke="#1c1b1a" stroke-width="1" />
<line x1="997.1" y1="1073.1" x2="883" y2="959.5" stroke="#1c1b1a" stroke-width="2.4" />
<path d="M898.9 975.7L912.5 984.8L908 989.3Z" fill="#1c1b1a"/>
<path d="M885 961.5L876.1 956.3L879.8 952.6Z" fill="#1c1b1a"/>
<text x="722.5" y="945" font-size="38" class="b" fill="url(#wmg)" stroke="#d4d4d4" stroke-opacity="0.3" stroke-width="0.8" textLength="207" lengthAdjust="spacingAndGlyphs">ukrvent.ua</text>
</g>
<g id="drawBB">
<defs><linearGradient id="mar3" x1="0" x2="1" y1="0" y2="1"><stop offset="0" stop-color="#885256"/><stop offset="0.55" stop-color="#925c60"/><stop offset="1" stop-color="#a46a6e"/></linearGradient></defs>
<text x="1191.8" y="770.6" font-size="31" text-anchor="middle" fill="#1c1b1a" class="b">Б</text>
<rect x="1122.2" y="845.8" width="121.9" height="171.1" fill="#a4a4a4"/>
<rect x="1137" y="861.8" width="92.4" height="140.4" fill="url(#mar3)"/>
<path d="M1140 950 Q1185 935 1227 950 V985 H1140Z" fill="#a45861" opacity="0.55"/>
<rect x="1137" y="984.9" width="92.4" height="17.3" fill="#643840"/>
<path d="M1143.2 955.4 H1185 L1201 983.7 H1143.2Z" fill="#2d171b"/>
<path d="M1185 955.4 L1201 983.7 H1186Z" fill="#4a242b"/>
<rect x="1146.5" y="960" width="37" height="5" fill="#9a3a44"/>
<rect x="1146.5" y="969" width="37" height="5" fill="#9a3a44"/>
<rect x="1146.5" y="978" width="37" height="5" fill="#9a3a44"/>
<rect x="1136.2" y="861" width="3.4" height="142" fill="#1c1b1a"/><rect x="1227.2" y="861" width="3.4" height="142" fill="#1c1b1a"/>
<line x1="1137" y1="861.8" x2="1229.4" y2="861.8" stroke="#1c1b1a" stroke-width="1.6" />
<line x1="1137" y1="1002.2" x2="1229.4" y2="1002.2" stroke="#1c1b1a" stroke-width="1.6" />
<circle cx="1129.6" cy="850.7" r="2.3" fill="#1c1b1a"/>
<circle cx="1129.6" cy="1012" r="2.3" fill="#1c1b1a"/>
<circle cx="1156.7" cy="850.7" r="2.3" fill="#1c1b1a"/>
<circle cx="1156.7" cy="1012" r="2.3" fill="#1c1b1a"/>
<circle cx="1183.3" cy="850.7" r="2.3" fill="#1c1b1a"/>
<circle cx="1183.3" cy="1012" r="2.3" fill="#1c1b1a"/>
<circle cx="1210.1" cy="850.7" r="2.3" fill="#1c1b1a"/>
<circle cx="1210.1" cy="1012" r="2.3" fill="#1c1b1a"/>
<circle cx="1236.7" cy="850.7" r="2.3" fill="#1c1b1a"/>
<circle cx="1236.7" cy="1012" r="2.3" fill="#1c1b1a"/>
<circle cx="1129.6" cy="877.8" r="2.3" fill="#1c1b1a"/>
<circle cx="1236.7" cy="877.8" r="2.3" fill="#1c1b1a"/>
<circle cx="1129.6" cy="904.9" r="2.3" fill="#1c1b1a"/>
<circle cx="1236.7" cy="904.9" r="2.3" fill="#1c1b1a"/>
<circle cx="1129.6" cy="932" r="2.3" fill="#1c1b1a"/>
<circle cx="1236.7" cy="932" r="2.3" fill="#1c1b1a"/>
<circle cx="1129.6" cy="959" r="2.3" fill="#1c1b1a"/>
<circle cx="1236.7" cy="959" r="2.3" fill="#1c1b1a"/>
<circle cx="1129.6" cy="986.2" r="2.3" fill="#1c1b1a"/>
<circle cx="1236.7" cy="986.2" r="2.3" fill="#1c1b1a"/>
<line x1="1183.3" y1="845.8" x2="1183.3" y2="1017" stroke="#1c1b1a" stroke-width="1.0" />
<line x1="1112.4" y1="932" x2="1254" y2="932" stroke="#1c1b1a" stroke-width="1.0" />
<line x1="1138.2" y1="828.5" x2="1138.2" y2="861.8" stroke="#1c1b1a" stroke-width="1" />
<line x1="1228.9" y1="828.5" x2="1228.9" y2="861.8" stroke="#1c1b1a" stroke-width="1" />
<line x1="1138.4" y1="835.4" x2="1228.7" y2="835.4" stroke="#1c1b1a" stroke-width="2" />
<path d="M1228.7 835.4L1215.7 837.9L1215.7 832.9Z" fill="#1c1b1a"/>
<path d="M1138.4 835.4L1151.4 832.9L1151.4 837.9Z" fill="#1c1b1a"/>
<text x="1181.7" y="831" font-size="24.5" text-anchor="middle" fill="#1c1b1a">375</text>
<line x1="1098.3" y1="862.3" x2="1137" y2="862.3" stroke="#1c1b1a" stroke-width="1" />
<line x1="1098.3" y1="1001.4" x2="1137" y2="1001.4" stroke="#1c1b1a" stroke-width="1" />
<line x1="1103.7" y1="862.5" x2="1103.7" y2="1001.2" stroke="#1c1b1a" stroke-width="2.2" />
<path d="M1103.7 1001.2L1100.1 977.2L1107.3 977.2Z" fill="#1c1b1a"/>
<path d="M1103.7 862.5L1107.3 886.5L1100.1 886.5Z" fill="#1c1b1a"/>
<text x="1100" y="930.7" font-size="24.5" text-anchor="middle" fill="#1c1b1a" transform="rotate(-90 1100 930.7)">585</text>
<text x="1075.4" y="895" font-size="24.5" text-anchor="middle" fill="#1c1b1a" transform="rotate(-90 1075.4 895)" textLength="128" lengthAdjust="spacingAndGlyphs">20 отв. ø14</text>
<line x1="1079.1" y1="821.1" x2="1079.1" y2="964" stroke="#1c1b1a" stroke-width="1" />
<line x1="1079.1" y1="821.1" x2="1150.5" y2="864.2" stroke="#1c1b1a" stroke-width="2.2" />
<path d="M1127.5 849.5L1113.1 844.3L1116.2 839.2Z" fill="#1c1b1a"/>
<path d="M1131.5 852L1140.5 854.5L1137.9 858.8Z" fill="#1c1b1a"/>
<line x1="1240.4" y1="845.8" x2="1343.9" y2="845.8" stroke="#1c1b1a" stroke-width="1" />
<line x1="1240.4" y1="1017" x2="1343.9" y2="1017" stroke="#1c1b1a" stroke-width="1" />
<line x1="1236.7" y1="850.7" x2="1318" y2="850.7" stroke="#1c1b1a" stroke-width="1" />
<line x1="1236.7" y1="1012" x2="1318" y2="1012" stroke="#1c1b1a" stroke-width="1" />
<line x1="1236.7" y1="986.2" x2="1278.6" y2="986.2" stroke="#1c1b1a" stroke-width="1" />
<line x1="1339" y1="846" x2="1339" y2="1016.8" stroke="#1c1b1a" stroke-width="2.2" />
<path d="M1339 1016.8L1335.4 992.8L1342.6 992.8Z" fill="#1c1b1a"/>
<path d="M1339 846L1342.6 870L1335.4 870Z" fill="#1c1b1a"/>
<text x="1334" y="935.7" font-size="24.5" text-anchor="middle" fill="#1c1b1a" transform="rotate(-90 1334 935.7)">719</text>
<line x1="1311.9" y1="851" x2="1311.9" y2="1011.8" stroke="#1c1b1a" stroke-width="2.2" />
<path d="M1311.9 1011.8L1308.3 987.8L1315.5 987.8Z" fill="#1c1b1a"/>
<path d="M1311.9 851L1315.5 875L1308.3 875Z" fill="#1c1b1a"/>
<text x="1305.7" y="935.7" font-size="24.5" text-anchor="middle" fill="#1c1b1a" transform="rotate(-90 1305.7 935.7)" textLength="120.7" lengthAdjust="spacingAndGlyphs">113x6=678</text>
<line x1="1275.4" y1="919.6" x2="1275.4" y2="1037.9" stroke="#1c1b1a" stroke-width="1.8" />
<path d="M1275.4 986L1272.8 973L1278 973Z" fill="#1c1b1a"/>
<path d="M1275.4 1012.2L1278 1025.2L1272.8 1025.2Z" fill="#1c1b1a"/>
<text x="1271.2" y="943" font-size="24.5" text-anchor="middle" fill="#1c1b1a" transform="rotate(-90 1271.2 943)">113</text>
<line x1="1210.1" y1="1012" x2="1210.1" y2="1047.7" stroke="#1c1b1a" stroke-width="1" />
<line x1="1236.7" y1="1012" x2="1236.7" y2="1079.7" stroke="#1c1b1a" stroke-width="1" />
<line x1="1129.6" y1="1012" x2="1129.6" y2="1077.3" stroke="#1c1b1a" stroke-width="1" />
<line x1="1146.8" y1="1042.3" x2="1209.9" y2="1042.3" stroke="#1c1b1a" stroke-width="1.8" />
<path d="M1209.9 1042.3L1196.9 1044.8L1196.9 1039.8Z" fill="#1c1b1a"/>
<line x1="1260" y1="1042.3" x2="1236.9" y2="1042.3" stroke="#1c1b1a" stroke-width="1.8" />
<path d="M1236.9 1042.3L1249.9 1039.8L1249.9 1044.8Z" fill="#1c1b1a"/>
<text x="1170.2" y="1037.9" font-size="24.5" text-anchor="middle" fill="#1c1b1a">112</text>
<text x="1251.5" y="1067.4" font-size="24.5" text-anchor="start" fill="#1c1b1a" textLength="119.5" lengthAdjust="spacingAndGlyphs">112x4=448</text>
<line x1="1245.4" y1="1071.9" x2="1371" y2="1071.9" stroke="#1c1b1a" stroke-width="1" />
<line x1="1129.8" y1="1073.1" x2="1236.5" y2="1073.1" stroke="#1c1b1a" stroke-width="1.8" />
<path d="M1236.5 1073.1L1223.5 1075.6L1223.5 1070.6Z" fill="#1c1b1a"/>
<path d="M1129.8 1073.1L1142.8 1070.6L1142.8 1075.6Z" fill="#1c1b1a"/>
<line x1="1122.2" y1="1017" x2="1122.2" y2="1105.6" stroke="#1c1b1a" stroke-width="1" />
<line x1="1244.1" y1="1017" x2="1244.1" y2="1105.6" stroke="#1c1b1a" stroke-width="1" />
<line x1="1122.4" y1="1100.2" x2="1243.9" y2="1100.2" stroke="#1c1b1a" stroke-width="2" />
<path d="M1243.9 1100.2L1219.9 1103.8L1219.9 1096.6Z" fill="#1c1b1a"/>
<path d="M1122.4 1100.2L1146.4 1096.6L1146.4 1103.8Z" fill="#1c1b1a"/>
<text x="1181.3" y="1094.5" font-size="24.5" text-anchor="middle" fill="#1c1b1a">511</text>
<text x="1078" y="941" font-size="38" class="b" fill="url(#wmg)" stroke="#d4d4d4" stroke-opacity="0.3" stroke-width="0.8" textLength="209" lengthAdjust="spacingAndGlyphs">ukrvent.ua</text>
</g>
<g id="view3d">
<defs>
<linearGradient id="g3out" gradientUnits="userSpaceOnUse" x1="1150" y1="1690" x2="1400" y2="2110"><stop offset="0" stop-color="#fafafa"/><stop offset="0.3" stop-color="#ececec"/><stop offset="0.5" stop-color="#d8d6da"/><stop offset="0.68" stop-color="#c4bdc9"/><stop offset="0.8" stop-color="#aca3b5"/><stop offset="1" stop-color="#8c8494"/></linearGradient>
<linearGradient id="g3cone" gradientUnits="userSpaceOnUse" x1="1110" y1="1880" x2="1190" y2="2060"><stop offset="0" stop-color="#5f2b31"/><stop offset="0.45" stop-color="#8d4247"/><stop offset="0.8" stop-color="#d0655c"/><stop offset="1" stop-color="#e0746a"/></linearGradient>
<linearGradient id="g3bl" gradientUnits="userSpaceOnUse" x1="1160" y1="1885" x2="1212" y2="2045"><stop offset="0" stop-color="#e9604f"/><stop offset="0.42" stop-color="#d9534a"/><stop offset="0.58" stop-color="#7b3236"/><stop offset="1" stop-color="#45201f"/></linearGradient>
<clipPath id="clip3w"><ellipse cx="1182" cy="1964" rx="93" ry="46.5" transform="rotate(62 1182 1964)"/></clipPath>
<clipPath id="clip3o"><ellipse cx="1159.3" cy="1969.5" rx="102.8" ry="60.6" transform="rotate(62 1159.3 1969.5)"/></clipPath>
</defs>
<polygon points="1398,1925 1406.2,1921.5 1435.5,1937.6 1435.5,1943 1414,1956 1398,1948" fill="#fbfbfb" stroke="#1c1b1a" stroke-width="1.4" stroke-linejoin="round" />
<polygon points="1400,1950 1414,1956 1414,2030 1400,2036" fill="#9c96a3" stroke="#1c1b1a" stroke-width="1.2" stroke-linejoin="round" />
<polygon points="1414,1956 1435.5,1942 1435.5,2003 1420.9,2013.4 1414,2018" fill="#c6bdce" stroke="#1c1b1a" stroke-width="1.4" stroke-linejoin="round" />
<line x1="1421.5" y1="1952" x2="1421.5" y2="2012" stroke="#1c1b1a" stroke-width="1"/>
<polygon points="1407.9,2051.4 1414.8,2032.4 1452.8,2011.7 1466.5,2022.1" fill="#f4f4f4" stroke="#1c1b1a" stroke-width="1.6" stroke-linejoin="round" />
<polygon points="1420.9,2011.7 1452.8,1996.2 1452.8,2011.7 1420.9,2029" fill="#c0b6ca" stroke="#1c1b1a" stroke-width="1.6" stroke-linejoin="round" />
<polygon points="973.1,1683 1077.5,1622.9 1082.1,1645.1 1068.2,1650 1059,1841.8 1009.1,1867.7" fill="#d6cbe1" stroke="#1c1b1a" stroke-width="2" stroke-linejoin="round" />
<path d="M989.7 1691.3 L1068.2 1647.9 C1077.7 1650.1 1106.4 1656.6 1125 1661C1143.6 1665.4 1164.7 1670 1180 1674.2C1195.3 1678.4 1204.6 1680.5 1216.9 1686.2C1229.2 1691.9 1241.6 1699.5 1253.9 1708.4C1266.2 1717.3 1278.5 1727.8 1290.8 1739.8C1303.1 1751.8 1315.5 1765 1327.8 1780.4C1340.1 1795.8 1355.7 1818.8 1364.7 1832.1C1373.7 1845.4 1376.5 1848.2 1382 1860C1387.5 1871.8 1393.3 1888.7 1397.6 1903.1C1401.9 1917.5 1405.6 1931.8 1407.9 1946.2C1410.2 1960.6 1411.2 1974.9 1411.4 1989.3C1411.6 2003.7 1410.8 2019.5 1408.8 2032.4C1406.8 2045.3 1403.8 2057.4 1399.3 2066.9C1394.8 2076.4 1389 2083.3 1382.1 2089.3C1375.2 2095.3 1366.2 2099.1 1357.9 2103.1C1349.6 2107.1 1339 2110.2 1332.1 2113.4C1325.2 2116.6 1320.2 2120.4 1316.5 2122.1C1312.8 2123.8 1310.8 2123.5 1309.7 2123.8 C1311.4 2120.9 1316.6 2114.6 1320 2106.5C1323.4 2098.4 1327.7 2087.8 1330.3 2075.5C1332.9 2063.2 1335.5 2046.8 1335.5 2032.4C1335.5 2018 1333.2 2003.7 1330.3 1989.3C1327.4 1974.9 1323.2 1960.1 1318.3 1946.2C1313.4 1932.3 1307.4 1919 1301 1906.1C1294.6 1893.2 1287 1880.9 1279.8 1868.9C1272.6 1856.9 1265.3 1845.2 1257.6 1834C1249.9 1822.8 1241.8 1811 1233.6 1801.7C1225.4 1792.5 1217.4 1786.1 1208.6 1778.5C1199.8 1770.9 1190.1 1762.7 1180.9 1755.9C1171.7 1749.1 1163.4 1743 1153.2 1737.5C1143 1732 1125.5 1725.2 1120 1722.7 L1031.3 1707.9 Z" fill="url(#g3out)" stroke="#1c1b1a" stroke-width="2.6" stroke-linejoin="round"/>
<line x1="1190.2" y1="1682" x2="1121.8" y2="1720.8" stroke="#1c1b1a" stroke-width="1.6"/>
<line x1="1333.8" y1="1987.6" x2="1406.2" y2="1949.7" stroke="#1c1b1a" stroke-width="1.6"/>
<path d="M1364 1971 Q1372 2040 1350 2100" fill="none" stroke="#1c1b1a" stroke-width="1"/>
<polygon points="989.7,1693.1 1031.3,1707.9 1059,1840.9 1020.2,1844.6" fill="#b6b6b6" stroke="#1c1b1a" stroke-width="1.8" stroke-linejoin="round" />
<path d="M977.7 1696.8 L989.7 1691.3 M989.7 1693.1 L1020.2 1844.6 L1056 1834.4" fill="none" stroke="#1c1b1a" stroke-width="1.6"/>
<circle cx="979" cy="1687" r="2" fill="#6a6370" stroke="#1c1b1a" stroke-width="0.8"/>
<circle cx="1001" cy="1672" r="2" fill="#6a6370" stroke="#1c1b1a" stroke-width="0.8"/>
<circle cx="1024" cy="1659" r="2" fill="#6a6370" stroke="#1c1b1a" stroke-width="0.8"/>
<circle cx="1047" cy="1646" r="2" fill="#6a6370" stroke="#1c1b1a" stroke-width="0.8"/>
<circle cx="1071" cy="1632" r="2" fill="#6a6370" stroke="#1c1b1a" stroke-width="0.8"/>
<circle cx="986" cy="1715" r="2" fill="#6a6370" stroke="#1c1b1a" stroke-width="0.8"/>
<circle cx="992" cy="1744" r="2" fill="#6a6370" stroke="#1c1b1a" stroke-width="0.8"/>
<circle cx="998" cy="1773" r="2" fill="#6a6370" stroke="#1c1b1a" stroke-width="0.8"/>
<circle cx="1004" cy="1801" r="2" fill="#6a6370" stroke="#1c1b1a" stroke-width="0.8"/>
<circle cx="1010" cy="1830" r="2" fill="#6a6370" stroke="#1c1b1a" stroke-width="0.8"/>
<circle cx="1016" cy="1858" r="2" fill="#6a6370" stroke="#1c1b1a" stroke-width="0.8"/>
<circle cx="1039" cy="1846" r="2" fill="#6a6370" stroke="#1c1b1a" stroke-width="0.8"/>
<path d="M1031.3 1707.9 L1120 1722.7 C1125.5 1725.2 1143 1732 1153.2 1737.5C1163.4 1743 1171.7 1749.1 1180.9 1755.9C1190.1 1762.7 1199.8 1770.9 1208.6 1778.5C1217.4 1786.1 1225.4 1792.5 1233.6 1801.7C1241.8 1811 1249.9 1822.8 1257.6 1834C1265.3 1845.2 1272.6 1856.9 1279.8 1868.9C1287 1880.9 1294.6 1893.2 1301 1906.1C1307.4 1919 1313.4 1932.3 1318.3 1946.2C1323.2 1960.1 1327.4 1974.9 1330.3 1989.3C1333.2 2003.7 1335.5 2018 1335.5 2032.4C1335.5 2046.8 1332.9 2063.2 1330.3 2075.5C1327.7 2087.8 1323.4 2098.4 1320 2106.5C1316.6 2114.6 1311.4 2120.9 1309.7 2123.8 C1307.4 2126.4 1302.2 2135 1295.9 2139.3C1289.6 2143.6 1279.4 2147.1 1271.7 2149.7C1264 2152.3 1259.3 2154.7 1250 2155C1240.7 2155.3 1227.3 2154.5 1215.9 2151.7C1204.5 2148.8 1190.8 2143.5 1181.4 2137.9C1172 2132.3 1168.2 2127 1159.3 2118.2C1150.4 2109.4 1138.1 2096.6 1127.9 2084.9C1117.8 2073.2 1107.3 2062.8 1098.4 2048C1089.5 2033.2 1081.1 2012.6 1074.3 1996.3C1067.5 1980 1061.4 1965.4 1057.7 1950C1054 1934.6 1051.9 1918.8 1052.2 1903.9C1052.5 1889 1058.4 1867.7 1059.6 1860.5 L1059 1842.8 Z" fill="#b5b5b5" stroke="#1c1b1a" stroke-width="2.6" stroke-linejoin="round"/>
<path d="M1133 2092 Q1180 2140 1250 2155 Q1290 2148 1309 2124 L1300 2136 L1140 2096Z" fill="#b0b0b0" stroke="none"/>
<ellipse cx="1165.8" cy="1966.7" rx="116.9" ry="80.2" transform="rotate(62 1165.8 1966.7)" fill="#bcbcbc" stroke="#1c1b1a" stroke-width="2.2" />
<ellipse cx="1163.5" cy="1967.8" rx="110.5" ry="72" transform="rotate(62 1163.5 1967.8)" fill="none" stroke="#3a3a3a" stroke-width="1.2" />
<ellipse cx="1159.3" cy="1969.5" rx="102.8" ry="60.6" transform="rotate(62 1159.3 1969.5)" fill="url(#g3cone)" stroke="#1c1b1a" stroke-width="2.2" />
<g clip-path="url(#clip3o)"><ellipse cx="1182" cy="1964" rx="93" ry="46.5" transform="rotate(62 1182 1964)" fill="url(#g3bl)" stroke="#2a1215" stroke-width="1.6" />
<g clip-path="url(#clip3w)"><line x1="1090.6" y1="1919.5" x2="1200.2" y2="1870.7" stroke="#2b1416" stroke-width="3.6" stroke-opacity="0.85"/><line x1="1096.7" y1="1931" x2="1206.3" y2="1882.2" stroke="#2b1416" stroke-width="3.6" stroke-opacity="0.85"/><line x1="1102.8" y1="1942.5" x2="1212.4" y2="1893.7" stroke="#2b1416" stroke-width="3.6" stroke-opacity="0.85"/><line x1="1108.9" y1="1954" x2="1218.5" y2="1905.2" stroke="#2b1416" stroke-width="3.6" stroke-opacity="0.85"/><line x1="1115" y1="1965.4" x2="1224.6" y2="1916.6" stroke="#2b1416" stroke-width="3.6" stroke-opacity="0.85"/><line x1="1121.1" y1="1976.9" x2="1230.7" y2="1928.1" stroke="#2b1416" stroke-width="3.6" stroke-opacity="0.85"/><line x1="1127.2" y1="1988.4" x2="1236.8" y2="1939.6" stroke="#2b1416" stroke-width="3.6" stroke-opacity="0.85"/><line x1="1133.3" y1="1999.9" x2="1242.9" y2="1951.1" stroke="#2b1416" stroke-width="3.6" stroke-opacity="0.85"/><line x1="1139.4" y1="2011.4" x2="1249" y2="1962.6" stroke="#2b1416" stroke-width="3.6" stroke-opacity="0.85"/><line x1="1145.5" y1="2022.8" x2="1255.1" y2="1974" stroke="#2b1416" stroke-width="3.6" stroke-opacity="0.85"/><line x1="1151.6" y1="2034.3" x2="1261.2" y2="1985.5" stroke="#2b1416" stroke-width="3.6" stroke-opacity="0.85"/><line x1="1157.7" y1="2045.8" x2="1267.3" y2="1997" stroke="#2b1416" stroke-width="3.6" stroke-opacity="0.85"/><line x1="1163.8" y1="2057.3" x2="1273.4" y2="2008.5" stroke="#2b1416" stroke-width="3.6" stroke-opacity="0.85"/></g></g>
<line x1="1137.5" y1="1872.9" x2="1137.4" y2="1866" stroke="#333" stroke-width="1.1"/>
<line x1="1143.1" y1="1873.8" x2="1143.7" y2="1866.8" stroke="#333" stroke-width="1.1"/>
<line x1="1148.8" y1="1875.3" x2="1150.1" y2="1868.3" stroke="#333" stroke-width="1.1"/>
<line x1="1154.6" y1="1877.4" x2="1156.5" y2="1870.4" stroke="#333" stroke-width="1.1"/>
<line x1="1160.5" y1="1880" x2="1163" y2="1873.1" stroke="#333" stroke-width="1.1"/>
<line x1="1166.4" y1="1883.3" x2="1169.5" y2="1876.4" stroke="#333" stroke-width="1.1"/>
<line x1="1172.2" y1="1887.1" x2="1175.9" y2="1880.3" stroke="#333" stroke-width="1.1"/>
<line x1="1178" y1="1891.4" x2="1182.3" y2="1884.8" stroke="#333" stroke-width="1.1"/>
<line x1="1183.7" y1="1896.3" x2="1188.5" y2="1889.9" stroke="#333" stroke-width="1.1"/>
<line x1="1189.2" y1="1901.6" x2="1194.5" y2="1895.4" stroke="#333" stroke-width="1.1"/>
<line x1="1194.6" y1="1907.3" x2="1200.4" y2="1901.4" stroke="#333" stroke-width="1.1"/>
<line x1="1199.7" y1="1913.4" x2="1206" y2="1907.9" stroke="#333" stroke-width="1.1"/>
<line x1="1204.6" y1="1919.9" x2="1211.3" y2="1914.7" stroke="#333" stroke-width="1.1"/>
<line x1="1209.3" y1="1926.7" x2="1216.2" y2="1921.9" stroke="#333" stroke-width="1.1"/>
<line x1="1213.6" y1="1933.7" x2="1220.9" y2="1929.4" stroke="#333" stroke-width="1.1"/>
<line x1="1217.6" y1="1941" x2="1225.1" y2="1937.1" stroke="#333" stroke-width="1.1"/>
<line x1="1221.2" y1="1948.4" x2="1229" y2="1945" stroke="#333" stroke-width="1.1"/>
<line x1="1224.5" y1="1956" x2="1232.4" y2="1953.1" stroke="#333" stroke-width="1.1"/>
<line x1="1227.3" y1="1963.7" x2="1235.4" y2="1961.3" stroke="#333" stroke-width="1.1"/>
<line x1="1229.8" y1="1971.4" x2="1237.9" y2="1969.5" stroke="#333" stroke-width="1.1"/>
<line x1="1231.8" y1="1979.1" x2="1239.9" y2="1977.8" stroke="#333" stroke-width="1.1"/>
<line x1="1233.3" y1="1986.7" x2="1241.4" y2="1985.9" stroke="#333" stroke-width="1.1"/>
<circle cx="1203.7" cy="2067.1" r="1.8" fill="#555" stroke="#1c1b1a" stroke-width="0.7"/>
<circle cx="1163.6" cy="2061.7" r="1.8" fill="#555" stroke="#1c1b1a" stroke-width="0.7"/>
<circle cx="1123.8" cy="2031" r="1.8" fill="#555" stroke="#1c1b1a" stroke-width="0.7"/>
<circle cx="1094.8" cy="1983.3" r="1.8" fill="#555" stroke="#1c1b1a" stroke-width="0.7"/>
<circle cx="1084.6" cy="1931.4" r="1.8" fill="#555" stroke="#1c1b1a" stroke-width="0.7"/>
<circle cx="1095.7" cy="1889.1" r="1.8" fill="#555" stroke="#1c1b1a" stroke-width="0.7"/>
<circle cx="1125.3" cy="1867.9" r="1.8" fill="#555" stroke="#1c1b1a" stroke-width="0.7"/>
<circle cx="1165.4" cy="1873.3" r="1.8" fill="#555" stroke="#1c1b1a" stroke-width="0.7"/>
<circle cx="1205.2" cy="1904" r="1.8" fill="#555" stroke="#1c1b1a" stroke-width="0.7"/>
<circle cx="1234.2" cy="1951.7" r="1.8" fill="#555" stroke="#1c1b1a" stroke-width="0.7"/>
<circle cx="1244.4" cy="2003.6" r="1.8" fill="#555" stroke="#1c1b1a" stroke-width="0.7"/>
<circle cx="1233.3" cy="2045.9" r="1.8" fill="#555" stroke="#1c1b1a" stroke-width="0.7"/>
<polygon points="1031.3,1707.9 1044.2,1706.1 1064.5,1806 1052,1808.5" fill="#d6cbe1" stroke="#1c1b1a" stroke-width="1.8" stroke-linejoin="round" />
<polygon points="1052,1808.5 1064.5,1806 1083,1897 1071,1899" fill="#d6cbe1" stroke="#1c1b1a" stroke-width="1.8" stroke-linejoin="round" />
<polygon points="1086.5,1985 1098,1979 1116.8,2062.8 1103,2066.5" fill="#d6cbe1" stroke="#1c1b1a" stroke-width="1.8" stroke-linejoin="round" />
<polygon points="1222.5,1802.6 1233.6,1799.8 1297.9,2114.5 1286.8,2118.2" fill="#d6cbe1" stroke="#1c1b1a" stroke-width="1.8" stroke-linejoin="round" />
<polygon points="1059,1812.3 1228.9,1856.6 1227.1,1864 1057.2,1819.7" fill="#fcfcfc" stroke="#1c1b1a" stroke-width="2" stroke-linejoin="round" />
<polygon points="1100,2073 1140.8,2096 1296,2133 1308,2131" fill="#aeaeae" stroke="#1c1b1a" stroke-width="1.6" stroke-linejoin="round" />
<polygon points="1100.2,2066.5 1312.6,2123.7 1310,2131.5 1097.6,2074.8" fill="#fcfcfc" stroke="#1c1b1a" stroke-width="2" stroke-linejoin="round" />
<ellipse cx="1090.4" cy="1767" rx="42.5" ry="27" transform="rotate(66 1090.4 1767)" fill="#b9b9b9" stroke="#2a2a2a" stroke-width="1.6" stroke-dasharray="3 1.6"/>
<ellipse cx="1086" cy="1762" rx="19" ry="12" transform="rotate(66 1086 1762)" fill="#b0b0b0" stroke="#2a2a2a" stroke-width="1.6" />
<ellipse cx="1084" cy="1760" rx="11" ry="6.5" transform="rotate(66 1084 1760)" fill="#c8c8c8" stroke="#333" stroke-width="1.2" />
<circle cx="1103.8" cy="1797.1" r="2" fill="#4a4a4a"/>
<circle cx="1090.5" cy="1796.2" r="2" fill="#4a4a4a"/>
<circle cx="1077.2" cy="1784.1" r="2" fill="#4a4a4a"/>
<circle cx="1068.9" cy="1765.4" r="2" fill="#4a4a4a"/>
<circle cx="1068.8" cy="1747.4" r="2" fill="#4a4a4a"/>
<circle cx="1077" cy="1736.9" r="2" fill="#4a4a4a"/>
<circle cx="1090.3" cy="1737.8" r="2" fill="#4a4a4a"/>
<circle cx="1103.6" cy="1749.9" r="2" fill="#4a4a4a"/>
<circle cx="1111.9" cy="1768.6" r="2" fill="#4a4a4a"/>
<circle cx="1112" cy="1786.6" r="2" fill="#4a4a4a"/>
<text x="1089" y="1778" font-size="24" class="b" fill="#fff" transform="rotate(30 1089 1778)" textLength="142" lengthAdjust="spacingAndGlyphs">ukrvent.ua</text>
</g>
<g id="texts">
<text x="480.5" y="133.2" font-size="64" fill="#d8413c" text-anchor="start" textLength="389" lengthAdjust="spacingAndGlyphs" class="b" >Вентилятор</text>
<text x="916.4" y="133.2" font-size="64" fill="#d8413c" text-anchor="start" textLength="88" lengthAdjust="spacingAndGlyphs" class="b" >ВД</text>
<text x="1027" y="133.2" font-size="64" fill="#d8413c" text-anchor="start" textLength="146" lengthAdjust="spacingAndGlyphs" class="b" >№10</text>
<text x="420" y="178" font-size="32.5" fill="#2b2a29" text-anchor="start" textLength="574.8" lengthAdjust="spacingAndGlyphs" class="b" >Кут розвороту корпусу Правий 195</text>
<circle cx="999.5" cy="159" r="2.9" fill="none" stroke="#2b2a29" stroke-width="1.9"/>
<text x="1006" y="178" font-size="32.5" fill="#2b2a29" text-anchor="start" textLength="228" lengthAdjust="spacingAndGlyphs" class="b" >, виконання 1,</text>
<text x="488" y="214.5" font-size="32.5" fill="#2b2a29" text-anchor="start" textLength="676.8" lengthAdjust="spacingAndGlyphs" class="b" >без направляючого апарату, без двигуна</text>
<text x="109.4" y="1148.6" font-size="24" fill="#2b2a29" text-anchor="start" textLength="654" lengthAdjust="spacingAndGlyphs" >* Розмір уточнюється при комплектації електродвигуном</text>
<text x="227.6" y="1250.8" font-size="41" fill="#d8413c" text-anchor="start" textLength="1192" lengthAdjust="spacingAndGlyphs" class="b" >Зведена аеродинамічна характеристика ВД №10 вик.1</text>
<text x="132.5" y="1289.7" font-size="30" fill="#2b2a29" text-anchor="start" textLength="787.2" lengthAdjust="spacingAndGlyphs" class="b" >при температурі середовища, що переміщується 20</text>
<circle cx="924.5" cy="1272.3" r="2.9" fill="none" stroke="#2b2a29" stroke-width="1.9"/>
<text x="930.3" y="1289.7" font-size="30" fill="#2b2a29" text-anchor="start" textLength="591.7" lengthAdjust="spacingAndGlyphs" class="b" >C і барометричному тиску 760 мм.рт.ст.</text>
<text x="900" y="1431" font-size="26.5" fill="#1f1e1d" text-anchor="start" textLength="258.5" lengthAdjust="spacingAndGlyphs" >PV - повний тиск, Па;</text>
<text x="900" y="1494" font-size="26.5" fill="#1f1e1d" text-anchor="start" textLength="486" lengthAdjust="spacingAndGlyphs" >N - споживана потужність двигуна, кВт;</text>
<text x="900" y="1525" font-size="26.5" fill="#1f1e1d" text-anchor="start" textLength="420" lengthAdjust="spacingAndGlyphs" >U-окружна швидкість колеса, м/с;</text>
<text x="900" y="1556.8" font-size="26.5" fill="#1f1e1d" text-anchor="start" textLength="571.5" lengthAdjust="spacingAndGlyphs" >n - частота обертання робочого колеса, об/хв;</text>
<text x="900" y="1587.3" font-size="26.5" fill="#1f1e1d" text-anchor="start" textLength="390.6" lengthAdjust="spacingAndGlyphs" >η-коефіцієнт корисної дії (ККД).</text>
<text x="900" y="1462.8" font-size="26.5" fill="#1f1e1d" text-anchor="start" textLength="435.8" lengthAdjust="spacingAndGlyphs" >Q - продуктивність повітрям, тис. м</text>
<text x="1337" y="1449.6" font-size="14.5" fill="#1f1e1d" text-anchor="start" >3</text>
<text x="1345" y="1462.8" font-size="26.5" fill="#1f1e1d" text-anchor="start" textLength="53.6" lengthAdjust="spacingAndGlyphs" >/год;</text>
<text x="97.9" y="2187.6" font-size="27.5" fill="#2b2a29" text-anchor="start" textLength="263" lengthAdjust="spacingAndGlyphs" >УКРВЕНТСИСТЕМИ</text>
<text x="97.9" y="2217.7" font-size="27.5" fill="#2b2a29" text-anchor="start" textLength="194" lengthAdjust="spacingAndGlyphs" >сайт:ukrvent.ua</text>
<text x="99" y="2249" font-size="27.5" fill="#2b2a29" text-anchor="start" textLength="323.4" lengthAdjust="spacingAndGlyphs" >E-mail: zavod@ukrvent.ua</text>
<text x="1378.4" y="2186.8" font-size="27.5" fill="#2b2a29" text-anchor="start" textLength="194.7" lengthAdjust="spacingAndGlyphs" >Відділ продажу</text>
<text x="1177.7" y="2217.9" font-size="27.5" fill="#2b2a29" text-anchor="start" textLength="395.3" lengthAdjust="spacingAndGlyphs" >+38 (097) 699-14-81 - Київстар;</text>
<text x="1105" y="2247.7" font-size="27.5" fill="#2b2a29" text-anchor="start" textLength="468" lengthAdjust="spacingAndGlyphs" >+38 (099) 199-69-06 - Vodofon (Viber)</text>
</g>
</svg></body></html>
